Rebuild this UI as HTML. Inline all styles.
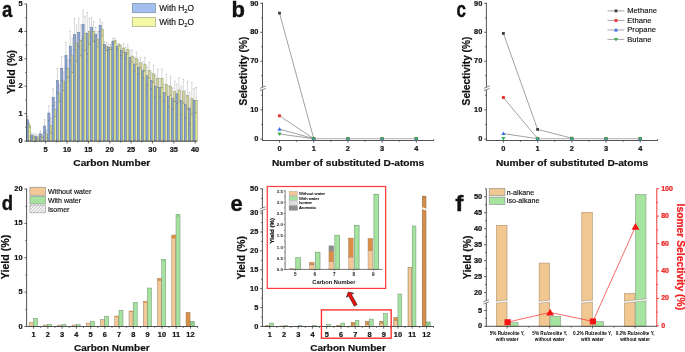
<!DOCTYPE html><html><head><meta charset="utf-8"><style>html,body{margin:0;padding:0;background:#fff;width:685px;height:352px;overflow:hidden}svg{display:block;will-change:transform;font-family:"Liberation Sans",sans-serif}</style></head><body>
<svg width="685" height="352" viewBox="0 0 685 352">
<defs><pattern id="hatchO" patternUnits="userSpaceOnUse" width="2" height="2" patternTransform="rotate(45)"><rect width="2" height="2" fill="#e29a52"/><line x1="0" y1="0" x2="0" y2="2" stroke="#c06a1c" stroke-width="0.9"/></pattern><pattern id="hatchG" patternUnits="userSpaceOnUse" width="2" height="2" patternTransform="rotate(45)"><rect width="2" height="2" fill="#a6e2a0"/><line x1="0" y1="0" x2="0" y2="2" stroke="#3f9a3f" stroke-width="1.0"/></pattern><pattern id="hatchW" patternUnits="userSpaceOnUse" width="2.2" height="2.2" patternTransform="rotate(45)"><rect width="2.2" height="2.2" fill="#fff"/><line x1="0" y1="0" x2="0" y2="2.2" stroke="#6a6a6a" stroke-width="0.75"/></pattern><pattern id="hatchL" patternUnits="userSpaceOnUse" width="2" height="2" patternTransform="rotate(45)"><rect width="2" height="2" fill="#ececec"/><line x1="0" y1="0" x2="0" y2="2" stroke="#a0a0a0" stroke-width="0.7"/></pattern></defs>
<rect width="685" height="352" fill="#fff"/>
<text x="2" y="16.8" font-size="22" font-weight="bold" text-anchor="start" fill="#111" textLength="10.3" lengthAdjust="spacingAndGlyphs"  stroke="#111" stroke-width="0.35">a</text>
<rect x="26.5" y="119.75" width="2.1" height="21.25" fill="#87a5dc" stroke="#526c9c" stroke-width="0.5"/>
<rect x="28.6" y="125" width="2.1" height="16" fill="#e2e898" stroke="#8f9360" stroke-width="0.5"/>
<rect x="30.77" y="135" width="2.1" height="6" fill="#87a5dc" stroke="#526c9c" stroke-width="0.5"/>
<rect x="32.87" y="136" width="2.1" height="5" fill="#e2e898" stroke="#8f9360" stroke-width="0.5"/>
<rect x="35.04" y="136.25" width="2.1" height="4.75" fill="#87a5dc" stroke="#526c9c" stroke-width="0.5"/>
<rect x="37.14" y="137" width="2.1" height="4" fill="#e2e898" stroke="#8f9360" stroke-width="0.5"/>
<rect x="39.31" y="133.75" width="2.1" height="7.25" fill="#87a5dc" stroke="#526c9c" stroke-width="0.5"/>
<rect x="41.41" y="136" width="2.1" height="5" fill="#e2e898" stroke="#8f9360" stroke-width="0.5"/>
<rect x="43.58" y="126" width="2.1" height="15" fill="#87a5dc" stroke="#526c9c" stroke-width="0.5"/>
<rect x="45.68" y="134" width="2.1" height="7" fill="#e2e898" stroke="#8f9360" stroke-width="0.5"/>
<rect x="47.85" y="113" width="2.1" height="28" fill="#87a5dc" stroke="#526c9c" stroke-width="0.5"/>
<rect x="49.95" y="125.5" width="2.1" height="15.5" fill="#e2e898" stroke="#8f9360" stroke-width="0.5"/>
<rect x="52.12" y="97.2" width="2.1" height="43.8" fill="#87a5dc" stroke="#526c9c" stroke-width="0.5"/>
<rect x="54.22" y="109.25" width="2.1" height="31.75" fill="#e2e898" stroke="#8f9360" stroke-width="0.5"/>
<rect x="56.39" y="80.5" width="2.1" height="60.5" fill="#87a5dc" stroke="#526c9c" stroke-width="0.5"/>
<rect x="58.49" y="93.3" width="2.1" height="47.7" fill="#e2e898" stroke="#8f9360" stroke-width="0.5"/>
<rect x="60.66" y="68.3" width="2.1" height="72.7" fill="#87a5dc" stroke="#526c9c" stroke-width="0.5"/>
<rect x="62.76" y="81.3" width="2.1" height="59.7" fill="#e2e898" stroke="#8f9360" stroke-width="0.5"/>
<rect x="64.93" y="55.4" width="2.1" height="85.6" fill="#87a5dc" stroke="#526c9c" stroke-width="0.5"/>
<rect x="67.03" y="68.7" width="2.1" height="72.3" fill="#e2e898" stroke="#8f9360" stroke-width="0.5"/>
<rect x="69.2" y="46.1" width="2.1" height="94.9" fill="#87a5dc" stroke="#526c9c" stroke-width="0.5"/>
<rect x="71.3" y="55.4" width="2.1" height="85.6" fill="#e2e898" stroke="#8f9360" stroke-width="0.5"/>
<rect x="73.47" y="34.3" width="2.1" height="106.7" fill="#87a5dc" stroke="#526c9c" stroke-width="0.5"/>
<rect x="75.57" y="43.1" width="2.1" height="97.9" fill="#e2e898" stroke="#8f9360" stroke-width="0.5"/>
<rect x="77.74" y="32.4" width="2.1" height="108.6" fill="#87a5dc" stroke="#526c9c" stroke-width="0.5"/>
<rect x="79.84" y="40.4" width="2.1" height="100.6" fill="#e2e898" stroke="#8f9360" stroke-width="0.5"/>
<rect x="82.01" y="24.3" width="2.1" height="116.7" fill="#87a5dc" stroke="#526c9c" stroke-width="0.5"/>
<rect x="84.11" y="33.4" width="2.1" height="107.6" fill="#e2e898" stroke="#8f9360" stroke-width="0.5"/>
<rect x="86.28" y="33.1" width="2.1" height="107.9" fill="#87a5dc" stroke="#526c9c" stroke-width="0.5"/>
<rect x="88.38" y="31.3" width="2.1" height="109.7" fill="#e2e898" stroke="#8f9360" stroke-width="0.5"/>
<rect x="90.55" y="27.2" width="2.1" height="113.8" fill="#87a5dc" stroke="#526c9c" stroke-width="0.5"/>
<rect x="92.65" y="31.3" width="2.1" height="109.7" fill="#e2e898" stroke="#8f9360" stroke-width="0.5"/>
<rect x="94.82" y="34.3" width="2.1" height="106.7" fill="#87a5dc" stroke="#526c9c" stroke-width="0.5"/>
<rect x="96.92" y="39.1" width="2.1" height="101.9" fill="#e2e898" stroke="#8f9360" stroke-width="0.5"/>
<rect x="99.09" y="25.2" width="2.1" height="115.8" fill="#87a5dc" stroke="#526c9c" stroke-width="0.5"/>
<rect x="101.19" y="29.1" width="2.1" height="111.9" fill="#e2e898" stroke="#8f9360" stroke-width="0.5"/>
<rect x="103.36" y="44.7" width="2.1" height="96.3" fill="#87a5dc" stroke="#526c9c" stroke-width="0.5"/>
<rect x="105.46" y="46.5" width="2.1" height="94.5" fill="#e2e898" stroke="#8f9360" stroke-width="0.5"/>
<rect x="107.63" y="47" width="2.1" height="94" fill="#87a5dc" stroke="#526c9c" stroke-width="0.5"/>
<rect x="109.73" y="47" width="2.1" height="94" fill="#e2e898" stroke="#8f9360" stroke-width="0.5"/>
<rect x="111.9" y="41.1" width="2.1" height="99.9" fill="#87a5dc" stroke="#526c9c" stroke-width="0.5"/>
<rect x="114" y="40.4" width="2.1" height="100.6" fill="#e2e898" stroke="#8f9360" stroke-width="0.5"/>
<rect x="116.17" y="46.2" width="2.1" height="94.8" fill="#87a5dc" stroke="#526c9c" stroke-width="0.5"/>
<rect x="118.27" y="44.8" width="2.1" height="96.2" fill="#e2e898" stroke="#8f9360" stroke-width="0.5"/>
<rect x="120.44" y="50.2" width="2.1" height="90.8" fill="#87a5dc" stroke="#526c9c" stroke-width="0.5"/>
<rect x="122.54" y="48" width="2.1" height="93" fill="#e2e898" stroke="#8f9360" stroke-width="0.5"/>
<rect x="124.71" y="52.7" width="2.1" height="88.3" fill="#87a5dc" stroke="#526c9c" stroke-width="0.5"/>
<rect x="126.81" y="49.2" width="2.1" height="91.8" fill="#e2e898" stroke="#8f9360" stroke-width="0.5"/>
<rect x="128.98" y="57.3" width="2.1" height="83.7" fill="#87a5dc" stroke="#526c9c" stroke-width="0.5"/>
<rect x="131.08" y="56.1" width="2.1" height="84.9" fill="#e2e898" stroke="#8f9360" stroke-width="0.5"/>
<rect x="133.25" y="64" width="2.1" height="77" fill="#87a5dc" stroke="#526c9c" stroke-width="0.5"/>
<rect x="135.35" y="58.2" width="2.1" height="82.8" fill="#e2e898" stroke="#8f9360" stroke-width="0.5"/>
<rect x="137.52" y="67" width="2.1" height="74" fill="#87a5dc" stroke="#526c9c" stroke-width="0.5"/>
<rect x="139.62" y="62.8" width="2.1" height="78.2" fill="#e2e898" stroke="#8f9360" stroke-width="0.5"/>
<rect x="141.79" y="70.1" width="2.1" height="70.9" fill="#87a5dc" stroke="#526c9c" stroke-width="0.5"/>
<rect x="143.89" y="64.1" width="2.1" height="76.9" fill="#e2e898" stroke="#8f9360" stroke-width="0.5"/>
<rect x="146.06" y="75.8" width="2.1" height="65.2" fill="#87a5dc" stroke="#526c9c" stroke-width="0.5"/>
<rect x="148.16" y="70.3" width="2.1" height="70.7" fill="#e2e898" stroke="#8f9360" stroke-width="0.5"/>
<rect x="150.33" y="80.3" width="2.1" height="60.7" fill="#87a5dc" stroke="#526c9c" stroke-width="0.5"/>
<rect x="152.43" y="73.8" width="2.1" height="67.2" fill="#e2e898" stroke="#8f9360" stroke-width="0.5"/>
<rect x="154.6" y="86.1" width="2.1" height="54.9" fill="#87a5dc" stroke="#526c9c" stroke-width="0.5"/>
<rect x="156.7" y="78.3" width="2.1" height="62.7" fill="#e2e898" stroke="#8f9360" stroke-width="0.5"/>
<rect x="158.87" y="87.4" width="2.1" height="53.6" fill="#87a5dc" stroke="#526c9c" stroke-width="0.5"/>
<rect x="160.97" y="78.3" width="2.1" height="62.7" fill="#e2e898" stroke="#8f9360" stroke-width="0.5"/>
<rect x="163.14" y="92.3" width="2.1" height="48.7" fill="#87a5dc" stroke="#526c9c" stroke-width="0.5"/>
<rect x="165.24" y="84.6" width="2.1" height="56.4" fill="#e2e898" stroke="#8f9360" stroke-width="0.5"/>
<rect x="167.41" y="96.5" width="2.1" height="44.5" fill="#87a5dc" stroke="#526c9c" stroke-width="0.5"/>
<rect x="169.51" y="86" width="2.1" height="55" fill="#e2e898" stroke="#8f9360" stroke-width="0.5"/>
<rect x="171.68" y="98.4" width="2.1" height="42.6" fill="#87a5dc" stroke="#526c9c" stroke-width="0.5"/>
<rect x="173.78" y="91.3" width="2.1" height="49.7" fill="#e2e898" stroke="#8f9360" stroke-width="0.5"/>
<rect x="175.95" y="93.8" width="2.1" height="47.2" fill="#87a5dc" stroke="#526c9c" stroke-width="0.5"/>
<rect x="178.05" y="89.9" width="2.1" height="51.1" fill="#e2e898" stroke="#8f9360" stroke-width="0.5"/>
<rect x="180.22" y="100.4" width="2.1" height="40.6" fill="#87a5dc" stroke="#526c9c" stroke-width="0.5"/>
<rect x="182.32" y="91.2" width="2.1" height="49.8" fill="#e2e898" stroke="#8f9360" stroke-width="0.5"/>
<rect x="184.49" y="104.2" width="2.1" height="36.8" fill="#87a5dc" stroke="#526c9c" stroke-width="0.5"/>
<rect x="186.59" y="95.4" width="2.1" height="45.6" fill="#e2e898" stroke="#8f9360" stroke-width="0.5"/>
<rect x="188.76" y="108" width="2.1" height="33" fill="#87a5dc" stroke="#526c9c" stroke-width="0.5"/>
<rect x="190.86" y="98.2" width="2.1" height="42.8" fill="#e2e898" stroke="#8f9360" stroke-width="0.5"/>
<rect x="193.03" y="100.2" width="2.1" height="40.8" fill="#87a5dc" stroke="#526c9c" stroke-width="0.5"/>
<rect x="195.13" y="100.2" width="2.1" height="40.8" fill="#e2e898" stroke="#8f9360" stroke-width="0.5"/>
<line x1="27.5" y1="116" x2="27.5" y2="123.5" stroke="#a8a8a8" stroke-width="0.45" />
<line x1="26.7" y1="116" x2="28.3" y2="116" stroke="#a0a0a0" stroke-width="0.5" />
<line x1="26.7" y1="123.5" x2="28.3" y2="123.5" stroke="#6a6a6a" stroke-width="0.55" />
<line x1="29.6" y1="123" x2="29.6" y2="127" stroke="#a8a8a8" stroke-width="0.45" />
<line x1="28.8" y1="123" x2="30.4" y2="123" stroke="#a0a0a0" stroke-width="0.5" />
<line x1="28.8" y1="127" x2="30.4" y2="127" stroke="#6a6a6a" stroke-width="0.55" />
<line x1="31.77" y1="133" x2="31.77" y2="137" stroke="#a8a8a8" stroke-width="0.45" />
<line x1="30.97" y1="133" x2="32.57" y2="133" stroke="#a0a0a0" stroke-width="0.5" />
<line x1="30.97" y1="137" x2="32.57" y2="137" stroke="#6a6a6a" stroke-width="0.55" />
<line x1="33.87" y1="134" x2="33.87" y2="138" stroke="#a8a8a8" stroke-width="0.45" />
<line x1="33.07" y1="134" x2="34.67" y2="134" stroke="#a0a0a0" stroke-width="0.5" />
<line x1="33.07" y1="138" x2="34.67" y2="138" stroke="#6a6a6a" stroke-width="0.55" />
<line x1="36.04" y1="134" x2="36.04" y2="138.5" stroke="#a8a8a8" stroke-width="0.45" />
<line x1="35.24" y1="134" x2="36.84" y2="134" stroke="#a0a0a0" stroke-width="0.5" />
<line x1="35.24" y1="138.5" x2="36.84" y2="138.5" stroke="#6a6a6a" stroke-width="0.55" />
<line x1="38.14" y1="135" x2="38.14" y2="139" stroke="#a8a8a8" stroke-width="0.45" />
<line x1="37.34" y1="135" x2="38.94" y2="135" stroke="#a0a0a0" stroke-width="0.5" />
<line x1="37.34" y1="139" x2="38.94" y2="139" stroke="#6a6a6a" stroke-width="0.55" />
<line x1="40.31" y1="131" x2="40.31" y2="136.5" stroke="#a8a8a8" stroke-width="0.45" />
<line x1="39.51" y1="131" x2="41.11" y2="131" stroke="#a0a0a0" stroke-width="0.5" />
<line x1="39.51" y1="136.5" x2="41.11" y2="136.5" stroke="#6a6a6a" stroke-width="0.55" />
<line x1="42.41" y1="134" x2="42.41" y2="138" stroke="#a8a8a8" stroke-width="0.45" />
<line x1="41.61" y1="134" x2="43.21" y2="134" stroke="#a0a0a0" stroke-width="0.5" />
<line x1="41.61" y1="138" x2="43.21" y2="138" stroke="#6a6a6a" stroke-width="0.55" />
<line x1="44.58" y1="119.5" x2="44.58" y2="132.5" stroke="#a8a8a8" stroke-width="0.45" />
<line x1="43.78" y1="119.5" x2="45.38" y2="119.5" stroke="#a0a0a0" stroke-width="0.5" />
<line x1="43.78" y1="132.5" x2="45.38" y2="132.5" stroke="#6a6a6a" stroke-width="0.55" />
<line x1="46.68" y1="130" x2="46.68" y2="138" stroke="#a8a8a8" stroke-width="0.45" />
<line x1="45.88" y1="130" x2="47.48" y2="130" stroke="#a0a0a0" stroke-width="0.5" />
<line x1="45.88" y1="138" x2="47.48" y2="138" stroke="#6a6a6a" stroke-width="0.55" />
<line x1="48.85" y1="105.8" x2="48.85" y2="120.2" stroke="#a8a8a8" stroke-width="0.45" />
<line x1="48.05" y1="105.8" x2="49.65" y2="105.8" stroke="#a0a0a0" stroke-width="0.5" />
<line x1="48.05" y1="120.2" x2="49.65" y2="120.2" stroke="#6a6a6a" stroke-width="0.55" />
<line x1="50.95" y1="118" x2="50.95" y2="133" stroke="#a8a8a8" stroke-width="0.45" />
<line x1="50.15" y1="118" x2="51.75" y2="118" stroke="#a0a0a0" stroke-width="0.5" />
<line x1="50.15" y1="133" x2="51.75" y2="133" stroke="#6a6a6a" stroke-width="0.55" />
<line x1="53.12" y1="88.7" x2="53.12" y2="105.7" stroke="#a8a8a8" stroke-width="0.45" />
<line x1="52.32" y1="88.7" x2="53.92" y2="88.7" stroke="#a0a0a0" stroke-width="0.5" />
<line x1="52.32" y1="105.7" x2="53.92" y2="105.7" stroke="#6a6a6a" stroke-width="0.55" />
<line x1="55.22" y1="102" x2="55.22" y2="116.5" stroke="#a8a8a8" stroke-width="0.45" />
<line x1="54.42" y1="102" x2="56.02" y2="102" stroke="#a0a0a0" stroke-width="0.5" />
<line x1="54.42" y1="116.5" x2="56.02" y2="116.5" stroke="#6a6a6a" stroke-width="0.55" />
<line x1="57.39" y1="68.5" x2="57.39" y2="92.5" stroke="#a8a8a8" stroke-width="0.45" />
<line x1="56.59" y1="68.5" x2="58.19" y2="68.5" stroke="#a0a0a0" stroke-width="0.5" />
<line x1="56.59" y1="92.5" x2="58.19" y2="92.5" stroke="#6a6a6a" stroke-width="0.55" />
<line x1="59.49" y1="85" x2="59.49" y2="101.6" stroke="#a8a8a8" stroke-width="0.45" />
<line x1="58.69" y1="85" x2="60.29" y2="85" stroke="#a0a0a0" stroke-width="0.5" />
<line x1="58.69" y1="101.6" x2="60.29" y2="101.6" stroke="#6a6a6a" stroke-width="0.55" />
<line x1="61.66" y1="56.3" x2="61.66" y2="80.3" stroke="#a8a8a8" stroke-width="0.45" />
<line x1="60.86" y1="56.3" x2="62.46" y2="56.3" stroke="#a0a0a0" stroke-width="0.5" />
<line x1="60.86" y1="80.3" x2="62.46" y2="80.3" stroke="#6a6a6a" stroke-width="0.55" />
<line x1="63.76" y1="72" x2="63.76" y2="90.6" stroke="#a8a8a8" stroke-width="0.45" />
<line x1="62.96" y1="72" x2="64.56" y2="72" stroke="#a0a0a0" stroke-width="0.5" />
<line x1="62.96" y1="90.6" x2="64.56" y2="90.6" stroke="#6a6a6a" stroke-width="0.55" />
<line x1="65.93" y1="42.4" x2="65.93" y2="68.4" stroke="#a8a8a8" stroke-width="0.45" />
<line x1="65.13" y1="42.4" x2="66.73" y2="42.4" stroke="#a0a0a0" stroke-width="0.5" />
<line x1="65.13" y1="68.4" x2="66.73" y2="68.4" stroke="#6a6a6a" stroke-width="0.55" />
<line x1="68.03" y1="60" x2="68.03" y2="77.4" stroke="#a8a8a8" stroke-width="0.45" />
<line x1="67.23" y1="60" x2="68.83" y2="60" stroke="#a0a0a0" stroke-width="0.5" />
<line x1="67.23" y1="77.4" x2="68.83" y2="77.4" stroke="#6a6a6a" stroke-width="0.55" />
<line x1="70.2" y1="31.3" x2="70.2" y2="60.9" stroke="#a8a8a8" stroke-width="0.45" />
<line x1="69.4" y1="31.3" x2="71" y2="31.3" stroke="#a0a0a0" stroke-width="0.5" />
<line x1="69.4" y1="60.9" x2="71" y2="60.9" stroke="#6a6a6a" stroke-width="0.55" />
<line x1="72.3" y1="38.2" x2="72.3" y2="72.6" stroke="#a8a8a8" stroke-width="0.45" />
<line x1="71.5" y1="38.2" x2="73.1" y2="38.2" stroke="#a0a0a0" stroke-width="0.5" />
<line x1="71.5" y1="72.6" x2="73.1" y2="72.6" stroke="#6a6a6a" stroke-width="0.55" />
<line x1="74.47" y1="18.7" x2="74.47" y2="49.9" stroke="#a8a8a8" stroke-width="0.45" />
<line x1="73.67" y1="18.7" x2="75.27" y2="18.7" stroke="#a0a0a0" stroke-width="0.5" />
<line x1="73.67" y1="49.9" x2="75.27" y2="49.9" stroke="#6a6a6a" stroke-width="0.55" />
<line x1="76.57" y1="25" x2="76.57" y2="61.2" stroke="#a8a8a8" stroke-width="0.45" />
<line x1="75.77" y1="25" x2="77.37" y2="25" stroke="#a0a0a0" stroke-width="0.5" />
<line x1="75.77" y1="61.2" x2="77.37" y2="61.2" stroke="#6a6a6a" stroke-width="0.55" />
<line x1="78.74" y1="18.4" x2="78.74" y2="46.4" stroke="#a8a8a8" stroke-width="0.45" />
<line x1="77.94" y1="18.4" x2="79.54" y2="18.4" stroke="#a0a0a0" stroke-width="0.5" />
<line x1="77.94" y1="46.4" x2="79.54" y2="46.4" stroke="#6a6a6a" stroke-width="0.55" />
<line x1="80.84" y1="25" x2="80.84" y2="55.8" stroke="#a8a8a8" stroke-width="0.45" />
<line x1="80.04" y1="25" x2="81.64" y2="25" stroke="#a0a0a0" stroke-width="0.5" />
<line x1="80.04" y1="55.8" x2="81.64" y2="55.8" stroke="#6a6a6a" stroke-width="0.55" />
<line x1="83.01" y1="10.2" x2="83.01" y2="38.4" stroke="#a8a8a8" stroke-width="0.45" />
<line x1="82.21" y1="10.2" x2="83.81" y2="10.2" stroke="#a0a0a0" stroke-width="0.5" />
<line x1="82.21" y1="38.4" x2="83.81" y2="38.4" stroke="#6a6a6a" stroke-width="0.55" />
<line x1="85.11" y1="16.4" x2="85.11" y2="50.4" stroke="#a8a8a8" stroke-width="0.45" />
<line x1="84.31" y1="16.4" x2="85.91" y2="16.4" stroke="#a0a0a0" stroke-width="0.5" />
<line x1="84.31" y1="50.4" x2="85.91" y2="50.4" stroke="#6a6a6a" stroke-width="0.55" />
<line x1="87.28" y1="12.5" x2="87.28" y2="53.7" stroke="#a8a8a8" stroke-width="0.45" />
<line x1="86.48" y1="12.5" x2="88.08" y2="12.5" stroke="#a0a0a0" stroke-width="0.5" />
<line x1="86.48" y1="53.7" x2="88.08" y2="53.7" stroke="#6a6a6a" stroke-width="0.55" />
<line x1="89.38" y1="18.4" x2="89.38" y2="44.2" stroke="#a8a8a8" stroke-width="0.45" />
<line x1="88.58" y1="18.4" x2="90.18" y2="18.4" stroke="#a0a0a0" stroke-width="0.5" />
<line x1="88.58" y1="44.2" x2="90.18" y2="44.2" stroke="#6a6a6a" stroke-width="0.55" />
<line x1="91.55" y1="17.4" x2="91.55" y2="37" stroke="#a8a8a8" stroke-width="0.45" />
<line x1="90.75" y1="17.4" x2="92.35" y2="17.4" stroke="#a0a0a0" stroke-width="0.5" />
<line x1="90.75" y1="37" x2="92.35" y2="37" stroke="#6a6a6a" stroke-width="0.55" />
<line x1="93.65" y1="21.3" x2="93.65" y2="41.3" stroke="#a8a8a8" stroke-width="0.45" />
<line x1="92.85" y1="21.3" x2="94.45" y2="21.3" stroke="#a0a0a0" stroke-width="0.5" />
<line x1="92.85" y1="41.3" x2="94.45" y2="41.3" stroke="#6a6a6a" stroke-width="0.55" />
<line x1="95.82" y1="27.4" x2="95.82" y2="41.2" stroke="#a8a8a8" stroke-width="0.45" />
<line x1="95.02" y1="27.4" x2="96.62" y2="27.4" stroke="#a0a0a0" stroke-width="0.5" />
<line x1="95.02" y1="41.2" x2="96.62" y2="41.2" stroke="#6a6a6a" stroke-width="0.55" />
<line x1="97.92" y1="31.4" x2="97.92" y2="46.8" stroke="#a8a8a8" stroke-width="0.45" />
<line x1="97.12" y1="31.4" x2="98.72" y2="31.4" stroke="#a0a0a0" stroke-width="0.5" />
<line x1="97.12" y1="46.8" x2="98.72" y2="46.8" stroke="#6a6a6a" stroke-width="0.55" />
<line x1="100.09" y1="19.1" x2="100.09" y2="31.3" stroke="#a8a8a8" stroke-width="0.45" />
<line x1="99.29" y1="19.1" x2="100.89" y2="19.1" stroke="#a0a0a0" stroke-width="0.5" />
<line x1="99.29" y1="31.3" x2="100.89" y2="31.3" stroke="#6a6a6a" stroke-width="0.55" />
<line x1="102.19" y1="22.2" x2="102.19" y2="36" stroke="#a8a8a8" stroke-width="0.45" />
<line x1="101.39" y1="22.2" x2="102.99" y2="22.2" stroke="#a0a0a0" stroke-width="0.5" />
<line x1="101.39" y1="36" x2="102.99" y2="36" stroke="#6a6a6a" stroke-width="0.55" />
<line x1="104.36" y1="41.4" x2="104.36" y2="48" stroke="#a8a8a8" stroke-width="0.45" />
<line x1="103.56" y1="41.4" x2="105.16" y2="41.4" stroke="#a0a0a0" stroke-width="0.5" />
<line x1="103.56" y1="48" x2="105.16" y2="48" stroke="#6a6a6a" stroke-width="0.55" />
<line x1="106.46" y1="42.5" x2="106.46" y2="50.5" stroke="#a8a8a8" stroke-width="0.45" />
<line x1="105.66" y1="42.5" x2="107.26" y2="42.5" stroke="#a0a0a0" stroke-width="0.5" />
<line x1="105.66" y1="50.5" x2="107.26" y2="50.5" stroke="#6a6a6a" stroke-width="0.55" />
<line x1="108.63" y1="44.2" x2="108.63" y2="49.8" stroke="#a8a8a8" stroke-width="0.45" />
<line x1="107.83" y1="44.2" x2="109.43" y2="44.2" stroke="#a0a0a0" stroke-width="0.5" />
<line x1="107.83" y1="49.8" x2="109.43" y2="49.8" stroke="#6a6a6a" stroke-width="0.55" />
<line x1="110.73" y1="44.5" x2="110.73" y2="49.5" stroke="#a8a8a8" stroke-width="0.45" />
<line x1="109.93" y1="44.5" x2="111.53" y2="44.5" stroke="#a0a0a0" stroke-width="0.5" />
<line x1="109.93" y1="49.5" x2="111.53" y2="49.5" stroke="#6a6a6a" stroke-width="0.55" />
<line x1="112.9" y1="38.4" x2="112.9" y2="43.8" stroke="#a8a8a8" stroke-width="0.45" />
<line x1="112.1" y1="38.4" x2="113.7" y2="38.4" stroke="#a0a0a0" stroke-width="0.5" />
<line x1="112.1" y1="43.8" x2="113.7" y2="43.8" stroke="#6a6a6a" stroke-width="0.55" />
<line x1="115" y1="38.6" x2="115" y2="42.2" stroke="#a8a8a8" stroke-width="0.45" />
<line x1="114.2" y1="38.6" x2="115.8" y2="38.6" stroke="#a0a0a0" stroke-width="0.5" />
<line x1="114.2" y1="42.2" x2="115.8" y2="42.2" stroke="#6a6a6a" stroke-width="0.55" />
<line x1="117.17" y1="43.7" x2="117.17" y2="48.7" stroke="#a8a8a8" stroke-width="0.45" />
<line x1="116.37" y1="43.7" x2="117.97" y2="43.7" stroke="#a0a0a0" stroke-width="0.5" />
<line x1="116.37" y1="48.7" x2="117.97" y2="48.7" stroke="#6a6a6a" stroke-width="0.55" />
<line x1="119.27" y1="43.7" x2="119.27" y2="45.9" stroke="#a8a8a8" stroke-width="0.45" />
<line x1="118.47" y1="43.7" x2="120.07" y2="43.7" stroke="#a0a0a0" stroke-width="0.5" />
<line x1="118.47" y1="45.9" x2="120.07" y2="45.9" stroke="#6a6a6a" stroke-width="0.55" />
<line x1="121.44" y1="45" x2="121.44" y2="55.4" stroke="#a8a8a8" stroke-width="0.45" />
<line x1="120.64" y1="45" x2="122.24" y2="45" stroke="#a0a0a0" stroke-width="0.5" />
<line x1="120.64" y1="55.4" x2="122.24" y2="55.4" stroke="#6a6a6a" stroke-width="0.55" />
<line x1="123.54" y1="43.6" x2="123.54" y2="52.4" stroke="#a8a8a8" stroke-width="0.45" />
<line x1="122.74" y1="43.6" x2="124.34" y2="43.6" stroke="#a0a0a0" stroke-width="0.5" />
<line x1="122.74" y1="52.4" x2="124.34" y2="52.4" stroke="#6a6a6a" stroke-width="0.55" />
<line x1="125.71" y1="47.3" x2="125.71" y2="58.1" stroke="#a8a8a8" stroke-width="0.45" />
<line x1="124.91" y1="47.3" x2="126.51" y2="47.3" stroke="#a0a0a0" stroke-width="0.5" />
<line x1="124.91" y1="58.1" x2="126.51" y2="58.1" stroke="#6a6a6a" stroke-width="0.55" />
<line x1="127.81" y1="44.4" x2="127.81" y2="54" stroke="#a8a8a8" stroke-width="0.45" />
<line x1="127.01" y1="44.4" x2="128.61" y2="44.4" stroke="#a0a0a0" stroke-width="0.5" />
<line x1="127.01" y1="54" x2="128.61" y2="54" stroke="#6a6a6a" stroke-width="0.55" />
<line x1="129.98" y1="50.6" x2="129.98" y2="64" stroke="#a8a8a8" stroke-width="0.45" />
<line x1="129.18" y1="50.6" x2="130.78" y2="50.6" stroke="#a0a0a0" stroke-width="0.5" />
<line x1="129.18" y1="64" x2="130.78" y2="64" stroke="#6a6a6a" stroke-width="0.55" />
<line x1="132.08" y1="50" x2="132.08" y2="62.2" stroke="#a8a8a8" stroke-width="0.45" />
<line x1="131.28" y1="50" x2="132.88" y2="50" stroke="#a0a0a0" stroke-width="0.5" />
<line x1="131.28" y1="62.2" x2="132.88" y2="62.2" stroke="#6a6a6a" stroke-width="0.55" />
<line x1="134.25" y1="57" x2="134.25" y2="71" stroke="#a8a8a8" stroke-width="0.45" />
<line x1="133.45" y1="57" x2="135.05" y2="57" stroke="#a0a0a0" stroke-width="0.5" />
<line x1="133.45" y1="71" x2="135.05" y2="71" stroke="#6a6a6a" stroke-width="0.55" />
<line x1="136.35" y1="52.1" x2="136.35" y2="64.3" stroke="#a8a8a8" stroke-width="0.45" />
<line x1="135.55" y1="52.1" x2="137.15" y2="52.1" stroke="#a0a0a0" stroke-width="0.5" />
<line x1="135.55" y1="64.3" x2="137.15" y2="64.3" stroke="#6a6a6a" stroke-width="0.55" />
<line x1="138.52" y1="60" x2="138.52" y2="74" stroke="#a8a8a8" stroke-width="0.45" />
<line x1="137.72" y1="60" x2="139.32" y2="60" stroke="#a0a0a0" stroke-width="0.5" />
<line x1="137.72" y1="74" x2="139.32" y2="74" stroke="#6a6a6a" stroke-width="0.55" />
<line x1="140.62" y1="57.4" x2="140.62" y2="68.2" stroke="#a8a8a8" stroke-width="0.45" />
<line x1="139.82" y1="57.4" x2="141.42" y2="57.4" stroke="#a0a0a0" stroke-width="0.5" />
<line x1="139.82" y1="68.2" x2="141.42" y2="68.2" stroke="#6a6a6a" stroke-width="0.55" />
<line x1="142.79" y1="62" x2="142.79" y2="78.2" stroke="#a8a8a8" stroke-width="0.45" />
<line x1="141.99" y1="62" x2="143.59" y2="62" stroke="#a0a0a0" stroke-width="0.5" />
<line x1="141.99" y1="78.2" x2="143.59" y2="78.2" stroke="#6a6a6a" stroke-width="0.55" />
<line x1="144.89" y1="57.4" x2="144.89" y2="70.8" stroke="#a8a8a8" stroke-width="0.45" />
<line x1="144.09" y1="57.4" x2="145.69" y2="57.4" stroke="#a0a0a0" stroke-width="0.5" />
<line x1="144.09" y1="70.8" x2="145.69" y2="70.8" stroke="#6a6a6a" stroke-width="0.55" />
<line x1="147.06" y1="67" x2="147.06" y2="84.6" stroke="#a8a8a8" stroke-width="0.45" />
<line x1="146.26" y1="67" x2="147.86" y2="67" stroke="#a0a0a0" stroke-width="0.5" />
<line x1="146.26" y1="84.6" x2="147.86" y2="84.6" stroke="#6a6a6a" stroke-width="0.55" />
<line x1="149.16" y1="62.3" x2="149.16" y2="78.3" stroke="#a8a8a8" stroke-width="0.45" />
<line x1="148.36" y1="62.3" x2="149.96" y2="62.3" stroke="#a0a0a0" stroke-width="0.5" />
<line x1="148.36" y1="78.3" x2="149.96" y2="78.3" stroke="#6a6a6a" stroke-width="0.55" />
<line x1="151.33" y1="72" x2="151.33" y2="88.6" stroke="#a8a8a8" stroke-width="0.45" />
<line x1="150.53" y1="72" x2="152.13" y2="72" stroke="#a0a0a0" stroke-width="0.5" />
<line x1="150.53" y1="88.6" x2="152.13" y2="88.6" stroke="#6a6a6a" stroke-width="0.55" />
<line x1="153.43" y1="65.2" x2="153.43" y2="82.4" stroke="#a8a8a8" stroke-width="0.45" />
<line x1="152.63" y1="65.2" x2="154.23" y2="65.2" stroke="#a0a0a0" stroke-width="0.5" />
<line x1="152.63" y1="82.4" x2="154.23" y2="82.4" stroke="#6a6a6a" stroke-width="0.55" />
<line x1="155.6" y1="75" x2="155.6" y2="97.2" stroke="#a8a8a8" stroke-width="0.45" />
<line x1="154.8" y1="75" x2="156.4" y2="75" stroke="#a0a0a0" stroke-width="0.5" />
<line x1="154.8" y1="97.2" x2="156.4" y2="97.2" stroke="#6a6a6a" stroke-width="0.55" />
<line x1="157.7" y1="69.2" x2="157.7" y2="87.4" stroke="#a8a8a8" stroke-width="0.45" />
<line x1="156.9" y1="69.2" x2="158.5" y2="69.2" stroke="#a0a0a0" stroke-width="0.5" />
<line x1="156.9" y1="87.4" x2="158.5" y2="87.4" stroke="#6a6a6a" stroke-width="0.55" />
<line x1="159.87" y1="78" x2="159.87" y2="96.8" stroke="#a8a8a8" stroke-width="0.45" />
<line x1="159.07" y1="78" x2="160.67" y2="78" stroke="#a0a0a0" stroke-width="0.5" />
<line x1="159.07" y1="96.8" x2="160.67" y2="96.8" stroke="#6a6a6a" stroke-width="0.55" />
<line x1="161.97" y1="68.9" x2="161.97" y2="87.7" stroke="#a8a8a8" stroke-width="0.45" />
<line x1="161.17" y1="68.9" x2="162.77" y2="68.9" stroke="#a0a0a0" stroke-width="0.5" />
<line x1="161.17" y1="87.7" x2="162.77" y2="87.7" stroke="#6a6a6a" stroke-width="0.55" />
<line x1="164.14" y1="84" x2="164.14" y2="100.6" stroke="#a8a8a8" stroke-width="0.45" />
<line x1="163.34" y1="84" x2="164.94" y2="84" stroke="#a0a0a0" stroke-width="0.5" />
<line x1="163.34" y1="100.6" x2="164.94" y2="100.6" stroke="#6a6a6a" stroke-width="0.55" />
<line x1="166.24" y1="74.3" x2="166.24" y2="94.9" stroke="#a8a8a8" stroke-width="0.45" />
<line x1="165.44" y1="74.3" x2="167.04" y2="74.3" stroke="#a0a0a0" stroke-width="0.5" />
<line x1="165.44" y1="94.9" x2="167.04" y2="94.9" stroke="#6a6a6a" stroke-width="0.55" />
<line x1="168.41" y1="86" x2="168.41" y2="107" stroke="#a8a8a8" stroke-width="0.45" />
<line x1="167.61" y1="86" x2="169.21" y2="86" stroke="#a0a0a0" stroke-width="0.5" />
<line x1="167.61" y1="107" x2="169.21" y2="107" stroke="#6a6a6a" stroke-width="0.55" />
<line x1="170.51" y1="76.3" x2="170.51" y2="95.7" stroke="#a8a8a8" stroke-width="0.45" />
<line x1="169.71" y1="76.3" x2="171.31" y2="76.3" stroke="#a0a0a0" stroke-width="0.5" />
<line x1="169.71" y1="95.7" x2="171.31" y2="95.7" stroke="#6a6a6a" stroke-width="0.55" />
<line x1="172.68" y1="88" x2="172.68" y2="108.8" stroke="#a8a8a8" stroke-width="0.45" />
<line x1="171.88" y1="88" x2="173.48" y2="88" stroke="#a0a0a0" stroke-width="0.5" />
<line x1="171.88" y1="108.8" x2="173.48" y2="108.8" stroke="#6a6a6a" stroke-width="0.55" />
<line x1="174.78" y1="81.2" x2="174.78" y2="101.4" stroke="#a8a8a8" stroke-width="0.45" />
<line x1="173.98" y1="81.2" x2="175.58" y2="81.2" stroke="#a0a0a0" stroke-width="0.5" />
<line x1="173.98" y1="101.4" x2="175.58" y2="101.4" stroke="#6a6a6a" stroke-width="0.55" />
<line x1="176.95" y1="84" x2="176.95" y2="103.6" stroke="#a8a8a8" stroke-width="0.45" />
<line x1="176.15" y1="84" x2="177.75" y2="84" stroke="#a0a0a0" stroke-width="0.5" />
<line x1="176.15" y1="103.6" x2="177.75" y2="103.6" stroke="#6a6a6a" stroke-width="0.55" />
<line x1="179.05" y1="77.7" x2="179.05" y2="102.1" stroke="#a8a8a8" stroke-width="0.45" />
<line x1="178.25" y1="77.7" x2="179.85" y2="77.7" stroke="#a0a0a0" stroke-width="0.5" />
<line x1="178.25" y1="102.1" x2="179.85" y2="102.1" stroke="#6a6a6a" stroke-width="0.55" />
<line x1="181.22" y1="86.3" x2="181.22" y2="114.5" stroke="#a8a8a8" stroke-width="0.45" />
<line x1="180.42" y1="86.3" x2="182.02" y2="86.3" stroke="#a0a0a0" stroke-width="0.5" />
<line x1="180.42" y1="114.5" x2="182.02" y2="114.5" stroke="#6a6a6a" stroke-width="0.55" />
<line x1="183.32" y1="79.2" x2="183.32" y2="103.2" stroke="#a8a8a8" stroke-width="0.45" />
<line x1="182.52" y1="79.2" x2="184.12" y2="79.2" stroke="#a0a0a0" stroke-width="0.5" />
<line x1="182.52" y1="103.2" x2="184.12" y2="103.2" stroke="#6a6a6a" stroke-width="0.55" />
<line x1="185.49" y1="90.3" x2="185.49" y2="118.1" stroke="#a8a8a8" stroke-width="0.45" />
<line x1="184.69" y1="90.3" x2="186.29" y2="90.3" stroke="#a0a0a0" stroke-width="0.5" />
<line x1="184.69" y1="118.1" x2="186.29" y2="118.1" stroke="#6a6a6a" stroke-width="0.55" />
<line x1="187.59" y1="81.4" x2="187.59" y2="109.4" stroke="#a8a8a8" stroke-width="0.45" />
<line x1="186.79" y1="81.4" x2="188.39" y2="81.4" stroke="#a0a0a0" stroke-width="0.5" />
<line x1="186.79" y1="109.4" x2="188.39" y2="109.4" stroke="#6a6a6a" stroke-width="0.55" />
<line x1="189.76" y1="92.5" x2="189.76" y2="123.5" stroke="#a8a8a8" stroke-width="0.45" />
<line x1="188.96" y1="92.5" x2="190.56" y2="92.5" stroke="#a0a0a0" stroke-width="0.5" />
<line x1="188.96" y1="123.5" x2="190.56" y2="123.5" stroke="#6a6a6a" stroke-width="0.55" />
<line x1="191.86" y1="82.4" x2="191.86" y2="114" stroke="#a8a8a8" stroke-width="0.45" />
<line x1="191.06" y1="82.4" x2="192.66" y2="82.4" stroke="#a0a0a0" stroke-width="0.5" />
<line x1="191.06" y1="114" x2="192.66" y2="114" stroke="#6a6a6a" stroke-width="0.55" />
<line x1="194.03" y1="88.5" x2="194.03" y2="111.9" stroke="#a8a8a8" stroke-width="0.45" />
<line x1="193.23" y1="88.5" x2="194.83" y2="88.5" stroke="#a0a0a0" stroke-width="0.5" />
<line x1="193.23" y1="111.9" x2="194.83" y2="111.9" stroke="#6a6a6a" stroke-width="0.55" />
<line x1="196.13" y1="87.5" x2="196.13" y2="112.9" stroke="#a8a8a8" stroke-width="0.45" />
<line x1="195.33" y1="87.5" x2="196.93" y2="87.5" stroke="#a0a0a0" stroke-width="0.5" />
<line x1="195.33" y1="112.9" x2="196.93" y2="112.9" stroke="#6a6a6a" stroke-width="0.55" />
<defs><linearGradient id="gB" x1="0" x2="1" y1="0" y2="0"><stop offset="0" stop-color="#9dbcf2"/><stop offset="0.45" stop-color="#8ea9df"/><stop offset="1" stop-color="#6f86b8"/></linearGradient><linearGradient id="gY" x1="0" x2="1" y1="0" y2="0"><stop offset="0" stop-color="#b7b881"/><stop offset="0.5" stop-color="#eef2a2"/><stop offset="1" stop-color="#c9cc8c"/></linearGradient></defs>
<line x1="26.6" y1="3.8" x2="26.6" y2="141.5" stroke="#404040" stroke-width="0.9" />
<line x1="26.2" y1="141.2" x2="197.2" y2="141.2" stroke="#404040" stroke-width="0.9" />
<line x1="24.4" y1="141" x2="26.6" y2="141" stroke="#404040" stroke-width="0.8" />
<text x="22.5" y="143.06" font-size="7.4" font-weight="bold" text-anchor="end" fill="#111"  stroke="#111" stroke-width="0.22">0</text>
<line x1="24.4" y1="113.6" x2="26.6" y2="113.6" stroke="#404040" stroke-width="0.8" />
<text x="22.5" y="115.66" font-size="7.4" font-weight="bold" text-anchor="end" fill="#111"  stroke="#111" stroke-width="0.22">1</text>
<line x1="24.4" y1="86.2" x2="26.6" y2="86.2" stroke="#404040" stroke-width="0.8" />
<text x="22.5" y="88.26" font-size="7.4" font-weight="bold" text-anchor="end" fill="#111"  stroke="#111" stroke-width="0.22">2</text>
<line x1="24.4" y1="58.8" x2="26.6" y2="58.8" stroke="#404040" stroke-width="0.8" />
<text x="22.5" y="60.86" font-size="7.4" font-weight="bold" text-anchor="end" fill="#111"  stroke="#111" stroke-width="0.22">3</text>
<line x1="24.4" y1="31.4" x2="26.6" y2="31.4" stroke="#404040" stroke-width="0.8" />
<text x="22.5" y="33.46" font-size="7.4" font-weight="bold" text-anchor="end" fill="#111"  stroke="#111" stroke-width="0.22">4</text>
<line x1="24.4" y1="4" x2="26.6" y2="4" stroke="#404040" stroke-width="0.8" />
<text x="22.5" y="6.06" font-size="7.4" font-weight="bold" text-anchor="end" fill="#111"  stroke="#111" stroke-width="0.22">5</text>
<line x1="25.3" y1="127.3" x2="26.6" y2="127.3" stroke="#404040" stroke-width="0.8" />
<line x1="25.3" y1="99.9" x2="26.6" y2="99.9" stroke="#404040" stroke-width="0.8" />
<line x1="25.3" y1="72.5" x2="26.6" y2="72.5" stroke="#404040" stroke-width="0.8" />
<line x1="25.3" y1="45.1" x2="26.6" y2="45.1" stroke="#404040" stroke-width="0.8" />
<line x1="25.3" y1="17.7" x2="26.6" y2="17.7" stroke="#404040" stroke-width="0.8" />
<line x1="45.68" y1="141.2" x2="45.68" y2="143.4" stroke="#404040" stroke-width="0.8" />
<text x="45.68" y="151.8" font-size="7.4" font-weight="bold" text-anchor="middle" fill="#111"  stroke="#111" stroke-width="0.22">5</text>
<line x1="67.03" y1="141.2" x2="67.03" y2="143.4" stroke="#404040" stroke-width="0.8" />
<text x="67.03" y="151.8" font-size="7.4" font-weight="bold" text-anchor="middle" fill="#111"  stroke="#111" stroke-width="0.22">10</text>
<line x1="88.38" y1="141.2" x2="88.38" y2="143.4" stroke="#404040" stroke-width="0.8" />
<text x="88.38" y="151.8" font-size="7.4" font-weight="bold" text-anchor="middle" fill="#111"  stroke="#111" stroke-width="0.22">15</text>
<line x1="109.73" y1="141.2" x2="109.73" y2="143.4" stroke="#404040" stroke-width="0.8" />
<text x="109.73" y="151.8" font-size="7.4" font-weight="bold" text-anchor="middle" fill="#111"  stroke="#111" stroke-width="0.22">20</text>
<line x1="131.08" y1="141.2" x2="131.08" y2="143.4" stroke="#404040" stroke-width="0.8" />
<text x="131.08" y="151.8" font-size="7.4" font-weight="bold" text-anchor="middle" fill="#111"  stroke="#111" stroke-width="0.22">25</text>
<line x1="152.43" y1="141.2" x2="152.43" y2="143.4" stroke="#404040" stroke-width="0.8" />
<text x="152.43" y="151.8" font-size="7.4" font-weight="bold" text-anchor="middle" fill="#111"  stroke="#111" stroke-width="0.22">30</text>
<line x1="173.78" y1="141.2" x2="173.78" y2="143.4" stroke="#404040" stroke-width="0.8" />
<text x="173.78" y="151.8" font-size="7.4" font-weight="bold" text-anchor="middle" fill="#111"  stroke="#111" stroke-width="0.22">35</text>
<line x1="195.13" y1="141.2" x2="195.13" y2="143.4" stroke="#404040" stroke-width="0.8" />
<text x="195.13" y="151.8" font-size="7.4" font-weight="bold" text-anchor="middle" fill="#111"  stroke="#111" stroke-width="0.22">40</text>
<line x1="35.01" y1="141.2" x2="35.01" y2="142.5" stroke="#404040" stroke-width="0.8" />
<line x1="56.35" y1="141.2" x2="56.35" y2="142.5" stroke="#404040" stroke-width="0.8" />
<line x1="77.7" y1="141.2" x2="77.7" y2="142.5" stroke="#404040" stroke-width="0.8" />
<line x1="99.06" y1="141.2" x2="99.06" y2="142.5" stroke="#404040" stroke-width="0.8" />
<line x1="120.41" y1="141.2" x2="120.41" y2="142.5" stroke="#404040" stroke-width="0.8" />
<line x1="141.75" y1="141.2" x2="141.75" y2="142.5" stroke="#404040" stroke-width="0.8" />
<line x1="163.1" y1="141.2" x2="163.1" y2="142.5" stroke="#404040" stroke-width="0.8" />
<text x="73.3" y="165.9" font-size="9.5" font-weight="bold" text-anchor="start" fill="#111" textLength="77" lengthAdjust="spacingAndGlyphs"  stroke="#111" stroke-width="0.2">Carbon Number</text>
<text transform="translate(14.6,72) rotate(-90)" x="0" y="0" font-size="10" font-weight="bold" text-anchor="middle" fill="#111" textLength="44.2" lengthAdjust="spacingAndGlyphs" stroke="#111" stroke-width="0.2">Yield (%)</text>
<rect x="132.3" y="3.4" width="23.2" height="9.3" fill="#a3bff0" stroke="#7d8aa0" stroke-width="0.7" />
<rect x="132.3" y="17.5" width="23.2" height="9" fill="#f4f9a6" stroke="#a6a981" stroke-width="0.7" />
<text x="159.2" y="10.8" font-size="8.4" fill="#111" stroke="#111" stroke-width="0.15">With H<tspan font-size="5.8" dy="1.9">2</tspan><tspan dy="-1.9">O</tspan></text>
<text x="159.2" y="25" font-size="8.4" fill="#111" stroke="#111" stroke-width="0.15">With D<tspan font-size="5.8" dy="1.9">2</tspan><tspan dy="-1.9">O</tspan></text>
<text x="231.5" y="16.8" font-size="22" font-weight="bold" text-anchor="start" fill="#111"  stroke="#111" stroke-width="0.35">b</text>
<line x1="262.5" y1="2.6" x2="262.5" y2="87.2" stroke="#404040" stroke-width="0.9" />
<line x1="262.5" y1="89.8" x2="262.5" y2="141" stroke="#404040" stroke-width="0.9" />
<line x1="260" y1="88.3" x2="265.7" y2="86" stroke="#555" stroke-width="0.7" />
<line x1="260" y1="90.6" x2="265.7" y2="88.4" stroke="#555" stroke-width="0.7" />
<line x1="262.5" y1="140.5" x2="433.7" y2="140.5" stroke="#404040" stroke-width="0.9" />
<line x1="433.7" y1="140.5" x2="433.7" y2="139" stroke="#404040" stroke-width="0.8" />
<line x1="260.3" y1="3.4" x2="262.5" y2="3.4" stroke="#404040" stroke-width="0.8" />
<text x="258.4" y="6.16" font-size="7.4" font-weight="bold" text-anchor="end" fill="#111"  stroke="#111" stroke-width="0.22">90</text>
<line x1="260.3" y1="32.3" x2="262.5" y2="32.3" stroke="#404040" stroke-width="0.8" />
<text x="258.4" y="34.36" font-size="7.4" font-weight="bold" text-anchor="end" fill="#111"  stroke="#111" stroke-width="0.22">80</text>
<line x1="260.3" y1="61.2" x2="262.5" y2="61.2" stroke="#404040" stroke-width="0.8" />
<text x="258.4" y="63.26" font-size="7.4" font-weight="bold" text-anchor="end" fill="#111"  stroke="#111" stroke-width="0.22">70</text>
<line x1="261.2" y1="17.85" x2="262.5" y2="17.85" stroke="#404040" stroke-width="0.8" />
<line x1="261.2" y1="46.75" x2="262.5" y2="46.75" stroke="#404040" stroke-width="0.8" />
<line x1="261.2" y1="75.65" x2="262.5" y2="75.65" stroke="#404040" stroke-width="0.8" />
<line x1="260.3" y1="109.9" x2="262.5" y2="109.9" stroke="#404040" stroke-width="0.8" />
<text x="258.4" y="111.96" font-size="7.4" font-weight="bold" text-anchor="end" fill="#111"  stroke="#111" stroke-width="0.22">10</text>
<line x1="260.3" y1="139.2" x2="262.5" y2="139.2" stroke="#404040" stroke-width="0.8" />
<text x="258.4" y="141.26" font-size="7.4" font-weight="bold" text-anchor="end" fill="#111"  stroke="#111" stroke-width="0.22">0</text>
<line x1="261.2" y1="95.25" x2="262.5" y2="95.25" stroke="#404040" stroke-width="0.8" />
<line x1="261.2" y1="124.55" x2="262.5" y2="124.55" stroke="#404040" stroke-width="0.8" />
<line x1="279.5" y1="140.5" x2="279.5" y2="142.7" stroke="#404040" stroke-width="0.8" />
<text x="279.5" y="150.6" font-size="7.4" font-weight="bold" text-anchor="middle" fill="#111"  stroke="#111" stroke-width="0.22">0</text>
<line x1="313.7" y1="140.5" x2="313.7" y2="142.7" stroke="#404040" stroke-width="0.8" />
<text x="313.7" y="150.6" font-size="7.4" font-weight="bold" text-anchor="middle" fill="#111"  stroke="#111" stroke-width="0.22">1</text>
<line x1="347.9" y1="140.5" x2="347.9" y2="142.7" stroke="#404040" stroke-width="0.8" />
<text x="347.9" y="150.6" font-size="7.4" font-weight="bold" text-anchor="middle" fill="#111"  stroke="#111" stroke-width="0.22">2</text>
<line x1="382.1" y1="140.5" x2="382.1" y2="142.7" stroke="#404040" stroke-width="0.8" />
<text x="382.1" y="150.6" font-size="7.4" font-weight="bold" text-anchor="middle" fill="#111"  stroke="#111" stroke-width="0.22">3</text>
<line x1="416.3" y1="140.5" x2="416.3" y2="142.7" stroke="#404040" stroke-width="0.8" />
<text x="416.3" y="150.6" font-size="7.4" font-weight="bold" text-anchor="middle" fill="#111"  stroke="#111" stroke-width="0.22">4</text>
<line x1="296.6" y1="140.5" x2="296.6" y2="141.8" stroke="#404040" stroke-width="0.8" />
<line x1="330.8" y1="140.5" x2="330.8" y2="141.8" stroke="#404040" stroke-width="0.8" />
<line x1="365" y1="140.5" x2="365" y2="141.8" stroke="#404040" stroke-width="0.8" />
<line x1="399.2" y1="140.5" x2="399.2" y2="141.8" stroke="#404040" stroke-width="0.8" />
<text x="272" y="165.5" font-size="9.5" font-weight="bold" text-anchor="start" fill="#111" textLength="152.3" lengthAdjust="spacingAndGlyphs"  stroke="#111" stroke-width="0.2">Number of substituted D-atoms</text>
<text transform="translate(246.5,71) rotate(-90)" x="0" y="0" font-size="10" font-weight="bold" text-anchor="middle" fill="#111" textLength="68.8" lengthAdjust="spacingAndGlyphs" stroke="#111" stroke-width="0.2">Selectivity (%)</text>
<polyline points="279.5,13.1 313.7,138.4" fill="none" stroke="#555" stroke-width="0.55"/>
<polyline points="279.5,115.8 313.7,138.6" fill="none" stroke="#555" stroke-width="0.55"/>
<polyline points="279.5,129.2 313.7,138.6" fill="none" stroke="#555" stroke-width="0.55"/>
<polyline points="279.5,134 313.7,138.7" fill="none" stroke="#555" stroke-width="0.55"/>
<polyline points="313.7,138.7 416.3,138.7" fill="none" stroke="#9a9a9a" stroke-width="0.8"/>
<rect x="278.1" y="11.7" width="2.8" height="2.8" fill="#404040" stroke="none" stroke-width="0.6" />
<rect x="312.3" y="137" width="2.8" height="2.8" fill="#404040" stroke="none" stroke-width="0.6" />
<rect x="346.5" y="137.2" width="2.8" height="2.8" fill="#404040" stroke="none" stroke-width="0.6" />
<rect x="380.7" y="137.2" width="2.8" height="2.8" fill="#404040" stroke="none" stroke-width="0.6" />
<rect x="414.9" y="137.2" width="2.8" height="2.8" fill="#404040" stroke="none" stroke-width="0.6" />
<circle cx="279.5" cy="115.8" r="1.75" fill="#f03a3a"/>
<circle cx="313.7" cy="138.6" r="1.75" fill="#f03a3a"/>
<circle cx="347.9" cy="138.8" r="1.75" fill="#f03a3a"/>
<circle cx="382.1" cy="138.8" r="1.75" fill="#f03a3a"/>
<circle cx="416.3" cy="138.8" r="1.75" fill="#f03a3a"/>
<polygon points="277.4,130.7 281.6,130.7 279.5,127.1" fill="#3a70f0"/>
<polygon points="311.6,140.1 315.8,140.1 313.7,136.5" fill="#3a70f0"/>
<polygon points="345.8,140.3 350,140.3 347.9,136.7" fill="#3a70f0"/>
<polygon points="380,140.3 384.2,140.3 382.1,136.7" fill="#3a70f0"/>
<polygon points="414.2,140.3 418.4,140.3 416.3,136.7" fill="#3a70f0"/>
<polygon points="277.4,132.5 281.6,132.5 279.5,136.1" fill="#36b253"/>
<polygon points="311.6,137.2 315.8,137.2 313.7,140.8" fill="#36b253"/>
<polygon points="345.8,137.3 350,137.3 347.9,140.9" fill="#36b253"/>
<polygon points="380,137.3 384.2,137.3 382.1,140.9" fill="#36b253"/>
<polygon points="414.2,137.3 418.4,137.3 416.3,140.9" fill="#36b253"/>
<text x="456.4" y="16.8" font-size="21.5" font-weight="bold" text-anchor="start" fill="#111" textLength="9.5" lengthAdjust="spacingAndGlyphs"  stroke="#111" stroke-width="0.35">c</text>
<line x1="486.4" y1="2.6" x2="486.4" y2="87.2" stroke="#404040" stroke-width="0.9" />
<line x1="486.4" y1="89.8" x2="486.4" y2="141" stroke="#404040" stroke-width="0.9" />
<line x1="483.9" y1="88.3" x2="489.6" y2="86" stroke="#555" stroke-width="0.7" />
<line x1="483.9" y1="90.6" x2="489.6" y2="88.4" stroke="#555" stroke-width="0.7" />
<line x1="486.4" y1="140.5" x2="657.6" y2="140.5" stroke="#404040" stroke-width="0.9" />
<line x1="657.6" y1="140.5" x2="657.6" y2="139" stroke="#404040" stroke-width="0.8" />
<line x1="484.2" y1="3.4" x2="486.4" y2="3.4" stroke="#404040" stroke-width="0.8" />
<text x="482.3" y="6.16" font-size="7.4" font-weight="bold" text-anchor="end" fill="#111"  stroke="#111" stroke-width="0.22">90</text>
<line x1="484.2" y1="32.3" x2="486.4" y2="32.3" stroke="#404040" stroke-width="0.8" />
<text x="482.3" y="34.36" font-size="7.4" font-weight="bold" text-anchor="end" fill="#111"  stroke="#111" stroke-width="0.22">80</text>
<line x1="484.2" y1="61.2" x2="486.4" y2="61.2" stroke="#404040" stroke-width="0.8" />
<text x="482.3" y="63.26" font-size="7.4" font-weight="bold" text-anchor="end" fill="#111"  stroke="#111" stroke-width="0.22">70</text>
<line x1="485.1" y1="17.85" x2="486.4" y2="17.85" stroke="#404040" stroke-width="0.8" />
<line x1="485.1" y1="46.75" x2="486.4" y2="46.75" stroke="#404040" stroke-width="0.8" />
<line x1="485.1" y1="75.65" x2="486.4" y2="75.65" stroke="#404040" stroke-width="0.8" />
<line x1="484.2" y1="109.9" x2="486.4" y2="109.9" stroke="#404040" stroke-width="0.8" />
<text x="482.3" y="111.96" font-size="7.4" font-weight="bold" text-anchor="end" fill="#111"  stroke="#111" stroke-width="0.22">10</text>
<line x1="484.2" y1="139.2" x2="486.4" y2="139.2" stroke="#404040" stroke-width="0.8" />
<text x="482.3" y="141.26" font-size="7.4" font-weight="bold" text-anchor="end" fill="#111"  stroke="#111" stroke-width="0.22">0</text>
<line x1="485.1" y1="95.25" x2="486.4" y2="95.25" stroke="#404040" stroke-width="0.8" />
<line x1="485.1" y1="124.55" x2="486.4" y2="124.55" stroke="#404040" stroke-width="0.8" />
<line x1="503.4" y1="140.5" x2="503.4" y2="142.7" stroke="#404040" stroke-width="0.8" />
<text x="503.4" y="150.6" font-size="7.4" font-weight="bold" text-anchor="middle" fill="#111"  stroke="#111" stroke-width="0.22">0</text>
<line x1="537.6" y1="140.5" x2="537.6" y2="142.7" stroke="#404040" stroke-width="0.8" />
<text x="537.6" y="150.6" font-size="7.4" font-weight="bold" text-anchor="middle" fill="#111"  stroke="#111" stroke-width="0.22">1</text>
<line x1="571.8" y1="140.5" x2="571.8" y2="142.7" stroke="#404040" stroke-width="0.8" />
<text x="571.8" y="150.6" font-size="7.4" font-weight="bold" text-anchor="middle" fill="#111"  stroke="#111" stroke-width="0.22">2</text>
<line x1="606" y1="140.5" x2="606" y2="142.7" stroke="#404040" stroke-width="0.8" />
<text x="606" y="150.6" font-size="7.4" font-weight="bold" text-anchor="middle" fill="#111"  stroke="#111" stroke-width="0.22">3</text>
<line x1="640.2" y1="140.5" x2="640.2" y2="142.7" stroke="#404040" stroke-width="0.8" />
<text x="640.2" y="150.6" font-size="7.4" font-weight="bold" text-anchor="middle" fill="#111"  stroke="#111" stroke-width="0.22">4</text>
<line x1="520.5" y1="140.5" x2="520.5" y2="141.8" stroke="#404040" stroke-width="0.8" />
<line x1="554.7" y1="140.5" x2="554.7" y2="141.8" stroke="#404040" stroke-width="0.8" />
<line x1="588.9" y1="140.5" x2="588.9" y2="141.8" stroke="#404040" stroke-width="0.8" />
<line x1="623.1" y1="140.5" x2="623.1" y2="141.8" stroke="#404040" stroke-width="0.8" />
<text x="495.9" y="165.5" font-size="9.5" font-weight="bold" text-anchor="start" fill="#111" textLength="152.3" lengthAdjust="spacingAndGlyphs"  stroke="#111" stroke-width="0.2">Number of substituted D-atoms</text>
<text transform="translate(470.4,71) rotate(-90)" x="0" y="0" font-size="10" font-weight="bold" text-anchor="middle" fill="#111" textLength="68.8" lengthAdjust="spacingAndGlyphs" stroke="#111" stroke-width="0.2">Selectivity (%)</text>
<polyline points="503.4,33.4 537.6,129.4 571.8,138.2" fill="none" stroke="#555" stroke-width="0.55"/>
<polyline points="503.4,97.6 537.6,138.6" fill="none" stroke="#555" stroke-width="0.55"/>
<polyline points="503.4,133.6 537.6,138.7" fill="none" stroke="#555" stroke-width="0.55"/>
<polyline points="537.6,138.7 640.2,138.7" fill="none" stroke="#9a9a9a" stroke-width="0.8"/>
<rect x="502" y="32" width="2.8" height="2.8" fill="#404040" stroke="none" stroke-width="0.6" />
<rect x="536.2" y="128" width="2.8" height="2.8" fill="#404040" stroke="none" stroke-width="0.6" />
<rect x="570.4" y="136.8" width="2.8" height="2.8" fill="#404040" stroke="none" stroke-width="0.6" />
<rect x="604.6" y="137.1" width="2.8" height="2.8" fill="#404040" stroke="none" stroke-width="0.6" />
<rect x="638.8" y="137.1" width="2.8" height="2.8" fill="#404040" stroke="none" stroke-width="0.6" />
<circle cx="503.4" cy="97.6" r="1.75" fill="#f03a3a"/>
<circle cx="537.6" cy="138.6" r="1.75" fill="#f03a3a"/>
<circle cx="571.8" cy="138.8" r="1.75" fill="#f03a3a"/>
<circle cx="606" cy="138.8" r="1.75" fill="#f03a3a"/>
<circle cx="640.2" cy="138.8" r="1.75" fill="#f03a3a"/>
<polygon points="501.3,135.1 505.5,135.1 503.4,131.5" fill="#3a70f0"/>
<polygon points="535.5,140.2 539.7,140.2 537.6,136.6" fill="#3a70f0"/>
<polygon points="569.7,140.3 573.9,140.3 571.8,136.7" fill="#3a70f0"/>
<polygon points="603.9,140.3 608.1,140.3 606,136.7" fill="#3a70f0"/>
<polygon points="638.1,140.3 642.3,140.3 640.2,136.7" fill="#3a70f0"/>
<polygon points="501.3,137.1 505.5,137.1 503.4,140.7" fill="#36b253"/>
<polygon points="535.5,137.3 539.7,137.3 537.6,140.9" fill="#36b253"/>
<polygon points="569.7,137.3 573.9,137.3 571.8,140.9" fill="#36b253"/>
<polygon points="603.9,137.3 608.1,137.3 606,140.9" fill="#36b253"/>
<polygon points="638.1,137.3 642.3,137.3 640.2,140.9" fill="#36b253"/>
<line x1="607.5" y1="10.9" x2="624.4" y2="10.9" stroke="#6a6a6a" stroke-width="0.6" />
<rect x="614.6" y="9.5" width="2.8" height="2.8" fill="#404040" stroke="none" stroke-width="0.6" />
<text x="627.3" y="13.1" font-size="7.6" font-weight="normal" text-anchor="start" fill="#111"  stroke="#111" stroke-width="0.15">Methane</text>
<line x1="607.5" y1="20.4" x2="624.4" y2="20.4" stroke="#6a6a6a" stroke-width="0.6" />
<circle cx="616" cy="20.4" r="1.75" fill="#f03a3a"/>
<text x="627.3" y="22.6" font-size="7.6" font-weight="normal" text-anchor="start" fill="#111"  stroke="#111" stroke-width="0.15">Ethane</text>
<line x1="607.5" y1="29.9" x2="624.4" y2="29.9" stroke="#6a6a6a" stroke-width="0.6" />
<polygon points="613.9,31.4 618.1,31.4 616,27.8" fill="#3a70f0"/>
<text x="627.3" y="32.1" font-size="7.6" font-weight="normal" text-anchor="start" fill="#111"  stroke="#111" stroke-width="0.15">Propane</text>
<line x1="607.5" y1="39.4" x2="624.4" y2="39.4" stroke="#6a6a6a" stroke-width="0.6" />
<polygon points="613.9,37.9 618.1,37.9 616,41.5" fill="#36b253"/>
<text x="627.3" y="41.6" font-size="7.6" font-weight="normal" text-anchor="start" fill="#111"  stroke="#111" stroke-width="0.15">Butane</text>
<text x="1.8" y="209.6" font-size="21" font-weight="bold" text-anchor="start" fill="#111" textLength="11.3" lengthAdjust="spacingAndGlyphs"  stroke="#111" stroke-width="0.35">d</text>
<rect x="29.2" y="322.72" width="4" height="3.78" fill="#f3c896" stroke="#8c7f70" stroke-width="0.5" />
<rect x="33.4" y="318.25" width="4" height="8.25" fill="#a6e3a0" stroke="#6f8f6f" stroke-width="0.5" />
<rect x="43.46" y="324.99" width="4" height="1.51" fill="#f3c896" stroke="#8c7f70" stroke-width="0.5" />
<rect x="47.66" y="324.3" width="4" height="2.2" fill="#a6e3a0" stroke="#6f8f6f" stroke-width="0.5" />
<rect x="57.72" y="325.12" width="4" height="1.38" fill="#f3c896" stroke="#8c7f70" stroke-width="0.5" />
<rect x="61.92" y="324.64" width="4" height="1.86" fill="#a6e3a0" stroke="#6f8f6f" stroke-width="0.5" />
<rect x="71.98" y="324.99" width="4" height="1.51" fill="#f3c896" stroke="#8c7f70" stroke-width="0.5" />
<rect x="76.18" y="324.44" width="4" height="2.06" fill="#a6e3a0" stroke="#6f8f6f" stroke-width="0.5" />
<rect x="86.24" y="323.06" width="4" height="3.44" fill="#f3c896" stroke="#8c7f70" stroke-width="0.5" />
<rect x="90.44" y="321.34" width="4" height="5.16" fill="#a6e3a0" stroke="#6f8f6f" stroke-width="0.5" />
<rect x="100.5" y="319.62" width="4" height="6.88" fill="#f3c896" stroke="#8c7f70" stroke-width="0.5" />
<rect x="104.7" y="316.19" width="4" height="10.31" fill="#a6e3a0" stroke="#6f8f6f" stroke-width="0.5" />
<rect x="114.76" y="316.05" width="4" height="10.45" fill="#f3c896" stroke="#8c7f70" stroke-width="0.5" />
<rect x="118.96" y="310.34" width="4" height="16.16" fill="#a6e3a0" stroke="#6f8f6f" stroke-width="0.5" />
<rect x="114.76" y="316.05" width="4" height="0.69" fill="url(#hatchO)" stroke="none" stroke-width="0.6" />
<rect x="129.02" y="311.03" width="4" height="15.47" fill="#f3c896" stroke="#8c7f70" stroke-width="0.5" />
<rect x="133.22" y="302.44" width="4" height="24.06" fill="#a6e3a0" stroke="#6f8f6f" stroke-width="0.5" />
<rect x="129.02" y="311.03" width="4" height="1.03" fill="url(#hatchO)" stroke="none" stroke-width="0.6" />
<rect x="133.22" y="302.44" width="4" height="0.69" fill="url(#hatchG)" stroke="none" stroke-width="0.6" />
<rect x="143.28" y="301.27" width="4" height="25.23" fill="#f3c896" stroke="#8c7f70" stroke-width="0.5" />
<rect x="147.48" y="288" width="4" height="38.5" fill="#a6e3a0" stroke="#6f8f6f" stroke-width="0.5" />
<rect x="143.28" y="301.27" width="4" height="1.38" fill="url(#hatchO)" stroke="none" stroke-width="0.6" />
<rect x="147.48" y="288" width="4" height="1.03" fill="url(#hatchG)" stroke="none" stroke-width="0.6" />
<rect x="157.54" y="278.72" width="4" height="47.78" fill="#f3c896" stroke="#8c7f70" stroke-width="0.5" />
<rect x="161.74" y="259.47" width="4" height="67.03" fill="#a6e3a0" stroke="#6f8f6f" stroke-width="0.5" />
<rect x="157.54" y="278.72" width="4" height="2.06" fill="url(#hatchO)" stroke="none" stroke-width="0.6" />
<rect x="161.74" y="259.47" width="4" height="1.72" fill="url(#hatchG)" stroke="none" stroke-width="0.6" />
<rect x="171.8" y="235.06" width="4" height="91.44" fill="#f3c896" stroke="#8c7f70" stroke-width="0.5" />
<rect x="176" y="214.44" width="4" height="112.06" fill="#a6e3a0" stroke="#6f8f6f" stroke-width="0.5" />
<rect x="171.8" y="235.06" width="4" height="3.44" fill="url(#hatchO)" stroke="none" stroke-width="0.6" />
<rect x="176" y="214.44" width="4" height="2.41" fill="url(#hatchG)" stroke="none" stroke-width="0.6" />
<rect x="186.06" y="312.41" width="4" height="14.09" fill="url(#hatchO)" stroke="#9a7a5a" stroke-width="0.5" />
<rect x="190.26" y="321.41" width="4" height="5.09" fill="url(#hatchG)" stroke="#6a8a6a" stroke-width="0.5" />
<line x1="26.6" y1="188.6" x2="26.6" y2="327" stroke="#404040" stroke-width="0.9" />
<line x1="26.2" y1="326.5" x2="198" y2="326.5" stroke="#404040" stroke-width="0.9" />
<line x1="24.4" y1="326.5" x2="26.6" y2="326.5" stroke="#404040" stroke-width="0.8" />
<text x="22.5" y="328.56" font-size="7.4" font-weight="bold" text-anchor="end" fill="#111"  stroke="#111" stroke-width="0.22">0</text>
<line x1="24.4" y1="292.12" x2="26.6" y2="292.12" stroke="#404040" stroke-width="0.8" />
<text x="22.5" y="294.19" font-size="7.4" font-weight="bold" text-anchor="end" fill="#111"  stroke="#111" stroke-width="0.22">5</text>
<line x1="24.4" y1="257.75" x2="26.6" y2="257.75" stroke="#404040" stroke-width="0.8" />
<text x="22.5" y="259.81" font-size="7.4" font-weight="bold" text-anchor="end" fill="#111"  stroke="#111" stroke-width="0.22">10</text>
<line x1="24.4" y1="223.38" x2="26.6" y2="223.38" stroke="#404040" stroke-width="0.8" />
<text x="22.5" y="225.44" font-size="7.4" font-weight="bold" text-anchor="end" fill="#111"  stroke="#111" stroke-width="0.22">15</text>
<line x1="24.4" y1="189" x2="26.6" y2="189" stroke="#404040" stroke-width="0.8" />
<text x="22.5" y="191.06" font-size="7.4" font-weight="bold" text-anchor="end" fill="#111"  stroke="#111" stroke-width="0.22">20</text>
<line x1="25.3" y1="309.31" x2="26.6" y2="309.31" stroke="#404040" stroke-width="0.8" />
<line x1="25.3" y1="274.94" x2="26.6" y2="274.94" stroke="#404040" stroke-width="0.8" />
<line x1="25.3" y1="240.56" x2="26.6" y2="240.56" stroke="#404040" stroke-width="0.8" />
<line x1="25.3" y1="206.19" x2="26.6" y2="206.19" stroke="#404040" stroke-width="0.8" />
<line x1="33.6" y1="326.5" x2="33.6" y2="328.7" stroke="#404040" stroke-width="0.8" />
<text x="33.6" y="336.8" font-size="7.4" font-weight="bold" text-anchor="middle" fill="#111"  stroke="#111" stroke-width="0.22">1</text>
<line x1="40.73" y1="326.5" x2="40.73" y2="327.8" stroke="#404040" stroke-width="0.8" />
<line x1="47.86" y1="326.5" x2="47.86" y2="328.7" stroke="#404040" stroke-width="0.8" />
<text x="47.86" y="336.8" font-size="7.4" font-weight="bold" text-anchor="middle" fill="#111"  stroke="#111" stroke-width="0.22">2</text>
<line x1="54.99" y1="326.5" x2="54.99" y2="327.8" stroke="#404040" stroke-width="0.8" />
<line x1="62.12" y1="326.5" x2="62.12" y2="328.7" stroke="#404040" stroke-width="0.8" />
<text x="62.12" y="336.8" font-size="7.4" font-weight="bold" text-anchor="middle" fill="#111"  stroke="#111" stroke-width="0.22">3</text>
<line x1="69.25" y1="326.5" x2="69.25" y2="327.8" stroke="#404040" stroke-width="0.8" />
<line x1="76.38" y1="326.5" x2="76.38" y2="328.7" stroke="#404040" stroke-width="0.8" />
<text x="76.38" y="336.8" font-size="7.4" font-weight="bold" text-anchor="middle" fill="#111"  stroke="#111" stroke-width="0.22">4</text>
<line x1="83.51" y1="326.5" x2="83.51" y2="327.8" stroke="#404040" stroke-width="0.8" />
<line x1="90.64" y1="326.5" x2="90.64" y2="328.7" stroke="#404040" stroke-width="0.8" />
<text x="90.64" y="336.8" font-size="7.4" font-weight="bold" text-anchor="middle" fill="#111"  stroke="#111" stroke-width="0.22">5</text>
<line x1="97.77" y1="326.5" x2="97.77" y2="327.8" stroke="#404040" stroke-width="0.8" />
<line x1="104.9" y1="326.5" x2="104.9" y2="328.7" stroke="#404040" stroke-width="0.8" />
<text x="104.9" y="336.8" font-size="7.4" font-weight="bold" text-anchor="middle" fill="#111"  stroke="#111" stroke-width="0.22">6</text>
<line x1="112.03" y1="326.5" x2="112.03" y2="327.8" stroke="#404040" stroke-width="0.8" />
<line x1="119.16" y1="326.5" x2="119.16" y2="328.7" stroke="#404040" stroke-width="0.8" />
<text x="119.16" y="336.8" font-size="7.4" font-weight="bold" text-anchor="middle" fill="#111"  stroke="#111" stroke-width="0.22">7</text>
<line x1="126.29" y1="326.5" x2="126.29" y2="327.8" stroke="#404040" stroke-width="0.8" />
<line x1="133.42" y1="326.5" x2="133.42" y2="328.7" stroke="#404040" stroke-width="0.8" />
<text x="133.42" y="336.8" font-size="7.4" font-weight="bold" text-anchor="middle" fill="#111"  stroke="#111" stroke-width="0.22">8</text>
<line x1="140.55" y1="326.5" x2="140.55" y2="327.8" stroke="#404040" stroke-width="0.8" />
<line x1="147.68" y1="326.5" x2="147.68" y2="328.7" stroke="#404040" stroke-width="0.8" />
<text x="147.68" y="336.8" font-size="7.4" font-weight="bold" text-anchor="middle" fill="#111"  stroke="#111" stroke-width="0.22">9</text>
<line x1="154.81" y1="326.5" x2="154.81" y2="327.8" stroke="#404040" stroke-width="0.8" />
<line x1="161.94" y1="326.5" x2="161.94" y2="328.7" stroke="#404040" stroke-width="0.8" />
<text x="161.94" y="336.8" font-size="7.4" font-weight="bold" text-anchor="middle" fill="#111"  stroke="#111" stroke-width="0.22">10</text>
<line x1="169.07" y1="326.5" x2="169.07" y2="327.8" stroke="#404040" stroke-width="0.8" />
<line x1="176.2" y1="326.5" x2="176.2" y2="328.7" stroke="#404040" stroke-width="0.8" />
<text x="176.2" y="336.8" font-size="7.4" font-weight="bold" text-anchor="middle" fill="#111"  stroke="#111" stroke-width="0.22">11</text>
<line x1="183.33" y1="326.5" x2="183.33" y2="327.8" stroke="#404040" stroke-width="0.8" />
<line x1="190.46" y1="326.5" x2="190.46" y2="328.7" stroke="#404040" stroke-width="0.8" />
<text x="190.46" y="336.8" font-size="7.4" font-weight="bold" text-anchor="middle" fill="#111"  stroke="#111" stroke-width="0.22">12</text>
<line x1="197.59" y1="326.5" x2="197.59" y2="327.8" stroke="#404040" stroke-width="0.8" />
<text x="74" y="351.2" font-size="9.5" font-weight="bold" text-anchor="start" fill="#111" textLength="75.6" lengthAdjust="spacingAndGlyphs"  stroke="#111" stroke-width="0.2">Carbon Number</text>
<text transform="translate(8.6,257) rotate(-90)" x="0" y="0" font-size="10" font-weight="bold" text-anchor="middle" fill="#111" textLength="44.3" lengthAdjust="spacingAndGlyphs" stroke="#111" stroke-width="0.2">Yield (%)</text>
<rect x="29.9" y="187.2" width="15.6" height="8" fill="#f3c896" stroke="#8a8a8a" stroke-width="0.6" />
<rect x="29.9" y="196.2" width="15.6" height="7.7" fill="#a6e3a0" stroke="#8a8a8a" stroke-width="0.6" />
<rect x="29.9" y="205.1" width="15.6" height="7.7" fill="url(#hatchW)" stroke="#9a9a9a" stroke-width="0.6" />
<text x="47.9" y="194" font-size="7.2" font-weight="normal" text-anchor="start" fill="#111" textLength="43.5" lengthAdjust="spacingAndGlyphs"  stroke="#111" stroke-width="0.15">Without water</text>
<text x="47.9" y="202.8" font-size="7.2" font-weight="normal" text-anchor="start" fill="#111" textLength="33.2" lengthAdjust="spacingAndGlyphs"  stroke="#111" stroke-width="0.15">With water</text>
<text x="47.9" y="211.5" font-size="7.2" font-weight="normal" text-anchor="start" fill="#111" textLength="21.5" lengthAdjust="spacingAndGlyphs"  stroke="#111" stroke-width="0.15">Isomer</text>
<text x="230.6" y="210.9" font-size="22" font-weight="bold" text-anchor="start" fill="#111"  stroke="#111" stroke-width="0.35">e</text>
<rect x="265.6" y="325.74" width="3.6" height="0.76" fill="url(#hatchO)" stroke="#9a7a5a" stroke-width="0.5" />
<rect x="265.6" y="325.74" width="3.6" height="0.76" fill="#f3c896" stroke="#9a8a70" stroke-width="0.5" />
<rect x="269.7" y="323.1" width="3.75" height="3.4" fill="#a6e3a0" stroke="#6f8f6f" stroke-width="0.5" />
<rect x="279.85" y="326.12" width="3.6" height="0.38" fill="url(#hatchO)" stroke="#9a7a5a" stroke-width="0.5" />
<rect x="279.85" y="326.12" width="3.6" height="0.38" fill="#f3c896" stroke="#9a8a70" stroke-width="0.5" />
<rect x="283.95" y="325.37" width="3.75" height="1.13" fill="#a6e3a0" stroke="#6f8f6f" stroke-width="0.5" />
<rect x="294.1" y="326.31" width="3.6" height="0.19" fill="url(#hatchO)" stroke="#9a7a5a" stroke-width="0.5" />
<rect x="294.1" y="326.31" width="3.6" height="0.19" fill="#f3c896" stroke="#9a8a70" stroke-width="0.5" />
<rect x="298.2" y="325.56" width="3.75" height="0.94" fill="#a6e3a0" stroke="#6f8f6f" stroke-width="0.5" />
<rect x="308.35" y="326.31" width="3.6" height="0.19" fill="url(#hatchO)" stroke="#9a7a5a" stroke-width="0.5" />
<rect x="308.35" y="326.31" width="3.6" height="0.19" fill="#f3c896" stroke="#9a8a70" stroke-width="0.5" />
<rect x="312.45" y="325.37" width="3.75" height="1.13" fill="#a6e3a0" stroke="#6f8f6f" stroke-width="0.5" />
<rect x="322.6" y="326.31" width="3.6" height="0.19" fill="url(#hatchO)" stroke="#9a7a5a" stroke-width="0.5" />
<rect x="322.6" y="326.31" width="3.6" height="0.19" fill="#f3c896" stroke="#9a8a70" stroke-width="0.5" />
<rect x="326.7" y="324.42" width="3.75" height="2.08" fill="#a6e3a0" stroke="#6f8f6f" stroke-width="0.5" />
<rect x="336.85" y="325.37" width="3.6" height="1.13" fill="url(#hatchO)" stroke="#9a7a5a" stroke-width="0.5" />
<rect x="336.85" y="325.74" width="3.6" height="0.76" fill="#f3c896" stroke="#9a8a70" stroke-width="0.5" />
<rect x="340.95" y="323.1" width="3.75" height="3.4" fill="#a6e3a0" stroke="#6f8f6f" stroke-width="0.5" />
<rect x="351.1" y="322.34" width="3.6" height="4.16" fill="url(#hatchO)" stroke="#9a7a5a" stroke-width="0.5" />
<rect x="351.1" y="325.18" width="3.6" height="1.32" fill="#f3c896" stroke="#9a8a70" stroke-width="0.5" />
<rect x="355.2" y="320.64" width="3.75" height="5.86" fill="#a6e3a0" stroke="#6f8f6f" stroke-width="0.5" />
<rect x="365.35" y="321.21" width="3.6" height="5.29" fill="url(#hatchO)" stroke="#9a7a5a" stroke-width="0.5" />
<rect x="365.35" y="324.42" width="3.6" height="2.08" fill="#f3c896" stroke="#9a8a70" stroke-width="0.5" />
<rect x="369.45" y="319.13" width="3.75" height="7.37" fill="#a6e3a0" stroke="#6f8f6f" stroke-width="0.5" />
<rect x="379.6" y="321.21" width="3.6" height="5.29" fill="url(#hatchO)" stroke="#9a7a5a" stroke-width="0.5" />
<rect x="379.6" y="323.29" width="3.6" height="3.21" fill="#f3c896" stroke="#9a8a70" stroke-width="0.5" />
<rect x="383.7" y="313.65" width="3.75" height="12.85" fill="#a6e3a0" stroke="#6f8f6f" stroke-width="0.5" />
<rect x="393.85" y="317.43" width="3.6" height="9.07" fill="url(#hatchO)" stroke="#9a7a5a" stroke-width="0.5" />
<rect x="393.85" y="320.45" width="3.6" height="6.05" fill="#f3c896" stroke="#9a8a70" stroke-width="0.5" />
<rect x="397.95" y="293.99" width="3.75" height="32.51" fill="#a6e3a0" stroke="#6f8f6f" stroke-width="0.5" />
<rect x="408.1" y="267.53" width="3.6" height="58.97" fill="url(#hatchO)" stroke="#9a7a5a" stroke-width="0.5" />
<rect x="408.1" y="267.53" width="3.6" height="58.97" fill="#f3c896" stroke="#9a8a70" stroke-width="0.5" />
<rect x="412.2" y="225.95" width="3.75" height="100.55" fill="#a6e3a0" stroke="#6f8f6f" stroke-width="0.5" />
<rect x="422.35" y="196.2" width="3.6" height="130.3" fill="url(#hatchO)" stroke="#7a5a3a" stroke-width="0.55" />
<rect x="426.45" y="321.96" width="3.75" height="4.54" fill="url(#hatchG)" stroke="#6a8a6a" stroke-width="0.5" />
<polygon points="421.65,207.1 426.55,208.7 426.55,210.5 421.65,208.9" fill="#fff"/>
<line x1="262.4" y1="188.4" x2="262.4" y2="207.9" stroke="#404040" stroke-width="0.9" />
<line x1="262.4" y1="210.5" x2="262.4" y2="327" stroke="#404040" stroke-width="0.9" />
<line x1="259.9" y1="209" x2="265.6" y2="206.7" stroke="#555" stroke-width="0.7" />
<line x1="259.9" y1="211.3" x2="265.6" y2="209.1" stroke="#555" stroke-width="0.7" />
<line x1="262.2" y1="326.5" x2="434" y2="326.5" stroke="#404040" stroke-width="0.9" />
<line x1="260.2" y1="326.5" x2="262.4" y2="326.5" stroke="#404040" stroke-width="0.8" />
<text x="258.3" y="328.56" font-size="7.4" font-weight="bold" text-anchor="end" fill="#111"  stroke="#111" stroke-width="0.22">0</text>
<line x1="260.2" y1="307.6" x2="262.4" y2="307.6" stroke="#404040" stroke-width="0.8" />
<text x="258.3" y="309.66" font-size="7.4" font-weight="bold" text-anchor="end" fill="#111"  stroke="#111" stroke-width="0.22">5</text>
<line x1="260.2" y1="288.7" x2="262.4" y2="288.7" stroke="#404040" stroke-width="0.8" />
<text x="258.3" y="290.76" font-size="7.4" font-weight="bold" text-anchor="end" fill="#111"  stroke="#111" stroke-width="0.22">10</text>
<line x1="260.2" y1="269.8" x2="262.4" y2="269.8" stroke="#404040" stroke-width="0.8" />
<text x="258.3" y="271.86" font-size="7.4" font-weight="bold" text-anchor="end" fill="#111"  stroke="#111" stroke-width="0.22">15</text>
<line x1="260.2" y1="250.9" x2="262.4" y2="250.9" stroke="#404040" stroke-width="0.8" />
<text x="258.3" y="252.96" font-size="7.4" font-weight="bold" text-anchor="end" fill="#111"  stroke="#111" stroke-width="0.22">20</text>
<line x1="260.2" y1="232" x2="262.4" y2="232" stroke="#404040" stroke-width="0.8" />
<text x="258.3" y="234.06" font-size="7.4" font-weight="bold" text-anchor="end" fill="#111"  stroke="#111" stroke-width="0.22">25</text>
<line x1="260.2" y1="213.1" x2="262.4" y2="213.1" stroke="#404040" stroke-width="0.8" />
<text x="258.3" y="215.16" font-size="7.4" font-weight="bold" text-anchor="end" fill="#111"  stroke="#111" stroke-width="0.22">30</text>
<line x1="261.1" y1="317.05" x2="262.4" y2="317.05" stroke="#404040" stroke-width="0.8" />
<line x1="261.1" y1="298.15" x2="262.4" y2="298.15" stroke="#404040" stroke-width="0.8" />
<line x1="261.1" y1="279.25" x2="262.4" y2="279.25" stroke="#404040" stroke-width="0.8" />
<line x1="261.1" y1="260.35" x2="262.4" y2="260.35" stroke="#404040" stroke-width="0.8" />
<line x1="261.1" y1="241.45" x2="262.4" y2="241.45" stroke="#404040" stroke-width="0.8" />
<line x1="261.1" y1="222.55" x2="262.4" y2="222.55" stroke="#404040" stroke-width="0.8" />
<line x1="260.2" y1="188.9" x2="262.4" y2="188.9" stroke="#404040" stroke-width="0.8" />
<text x="258.3" y="190.96" font-size="7.4" font-weight="bold" text-anchor="end" fill="#111"  stroke="#111" stroke-width="0.22">50</text>
<line x1="261.1" y1="198.4" x2="262.4" y2="198.4" stroke="#404040" stroke-width="0.8" />
<line x1="269.7" y1="326.5" x2="269.7" y2="328.7" stroke="#404040" stroke-width="0.8" />
<text x="269.7" y="336.8" font-size="7.4" font-weight="bold" text-anchor="middle" fill="#111"  stroke="#111" stroke-width="0.22">1</text>
<line x1="276.82" y1="326.5" x2="276.82" y2="327.8" stroke="#404040" stroke-width="0.8" />
<line x1="283.95" y1="326.5" x2="283.95" y2="328.7" stroke="#404040" stroke-width="0.8" />
<text x="283.95" y="336.8" font-size="7.4" font-weight="bold" text-anchor="middle" fill="#111"  stroke="#111" stroke-width="0.22">2</text>
<line x1="291.07" y1="326.5" x2="291.07" y2="327.8" stroke="#404040" stroke-width="0.8" />
<line x1="298.2" y1="326.5" x2="298.2" y2="328.7" stroke="#404040" stroke-width="0.8" />
<text x="298.2" y="336.8" font-size="7.4" font-weight="bold" text-anchor="middle" fill="#111"  stroke="#111" stroke-width="0.22">3</text>
<line x1="305.32" y1="326.5" x2="305.32" y2="327.8" stroke="#404040" stroke-width="0.8" />
<line x1="312.45" y1="326.5" x2="312.45" y2="328.7" stroke="#404040" stroke-width="0.8" />
<text x="312.45" y="336.8" font-size="7.4" font-weight="bold" text-anchor="middle" fill="#111"  stroke="#111" stroke-width="0.22">4</text>
<line x1="319.57" y1="326.5" x2="319.57" y2="327.8" stroke="#404040" stroke-width="0.8" />
<line x1="326.7" y1="326.5" x2="326.7" y2="328.7" stroke="#404040" stroke-width="0.8" />
<text x="326.7" y="336.8" font-size="7.4" font-weight="bold" text-anchor="middle" fill="#111"  stroke="#111" stroke-width="0.22">5</text>
<line x1="333.82" y1="326.5" x2="333.82" y2="327.8" stroke="#404040" stroke-width="0.8" />
<line x1="340.95" y1="326.5" x2="340.95" y2="328.7" stroke="#404040" stroke-width="0.8" />
<text x="340.95" y="336.8" font-size="7.4" font-weight="bold" text-anchor="middle" fill="#111"  stroke="#111" stroke-width="0.22">6</text>
<line x1="348.07" y1="326.5" x2="348.07" y2="327.8" stroke="#404040" stroke-width="0.8" />
<line x1="355.2" y1="326.5" x2="355.2" y2="328.7" stroke="#404040" stroke-width="0.8" />
<text x="355.2" y="336.8" font-size="7.4" font-weight="bold" text-anchor="middle" fill="#111"  stroke="#111" stroke-width="0.22">7</text>
<line x1="362.32" y1="326.5" x2="362.32" y2="327.8" stroke="#404040" stroke-width="0.8" />
<line x1="369.45" y1="326.5" x2="369.45" y2="328.7" stroke="#404040" stroke-width="0.8" />
<text x="369.45" y="336.8" font-size="7.4" font-weight="bold" text-anchor="middle" fill="#111"  stroke="#111" stroke-width="0.22">8</text>
<line x1="376.57" y1="326.5" x2="376.57" y2="327.8" stroke="#404040" stroke-width="0.8" />
<line x1="383.7" y1="326.5" x2="383.7" y2="328.7" stroke="#404040" stroke-width="0.8" />
<text x="383.7" y="336.8" font-size="7.4" font-weight="bold" text-anchor="middle" fill="#111"  stroke="#111" stroke-width="0.22">9</text>
<line x1="390.82" y1="326.5" x2="390.82" y2="327.8" stroke="#404040" stroke-width="0.8" />
<line x1="397.95" y1="326.5" x2="397.95" y2="328.7" stroke="#404040" stroke-width="0.8" />
<text x="397.95" y="336.8" font-size="7.4" font-weight="bold" text-anchor="middle" fill="#111"  stroke="#111" stroke-width="0.22">10</text>
<line x1="405.07" y1="326.5" x2="405.07" y2="327.8" stroke="#404040" stroke-width="0.8" />
<line x1="412.2" y1="326.5" x2="412.2" y2="328.7" stroke="#404040" stroke-width="0.8" />
<text x="412.2" y="336.8" font-size="7.4" font-weight="bold" text-anchor="middle" fill="#111"  stroke="#111" stroke-width="0.22">11</text>
<line x1="419.32" y1="326.5" x2="419.32" y2="327.8" stroke="#404040" stroke-width="0.8" />
<line x1="426.45" y1="326.5" x2="426.45" y2="328.7" stroke="#404040" stroke-width="0.8" />
<text x="426.45" y="336.8" font-size="7.4" font-weight="bold" text-anchor="middle" fill="#111"  stroke="#111" stroke-width="0.22">12</text>
<line x1="433.57" y1="326.5" x2="433.57" y2="327.8" stroke="#404040" stroke-width="0.8" />
<text x="310.2" y="351.2" font-size="9.5" font-weight="bold" text-anchor="start" fill="#111" textLength="75.6" lengthAdjust="spacingAndGlyphs"  stroke="#111" stroke-width="0.2">Carbon Number</text>
<text transform="translate(245,257.7) rotate(-90)" x="0" y="0" font-size="10" font-weight="bold" text-anchor="middle" fill="#111" textLength="43.4" lengthAdjust="spacingAndGlyphs" stroke="#111" stroke-width="0.2">Yield (%)</text>
<rect x="267.25" y="186.5" width="118.4" height="101.9" fill="none" stroke="#ff3a3a" stroke-width="1.2" />
<rect x="321.45" y="309.9" width="69.7" height="28.3" fill="none" stroke="#ff2a2a" stroke-width="1.35" />
<polygon points="348.3,292.1 353.7,293.2 351.45,294.47 357.1,304.6 354.3,306.2 348.65,296.03 346.4,297.3" fill="#f51010" stroke="#111" stroke-width="0.6" stroke-linejoin="miter"/>
<rect x="289.9" y="268.28" width="4.7" height="0" fill="#8d8d8d" stroke="#777" stroke-width="0.4" />
<rect x="289.9" y="268.28" width="4.7" height="0" fill="url(#hatchO)" stroke="#9a7a5a" stroke-width="0.4" />
<rect x="289.9" y="268.28" width="4.7" height="1.12" fill="#f3c896" stroke="#a08a70" stroke-width="0.4" />
<rect x="295.8" y="257.75" width="4.7" height="11.65" fill="#a6e3a0" stroke="#4d7d4d" stroke-width="0.45" />
<rect x="309.43" y="262.46" width="4.7" height="0" fill="#8d8d8d" stroke="#777" stroke-width="0.4" />
<rect x="309.43" y="262.46" width="4.7" height="2.46" fill="url(#hatchO)" stroke="#9a7a5a" stroke-width="0.4" />
<rect x="309.43" y="264.92" width="4.7" height="4.48" fill="#f3c896" stroke="#a08a70" stroke-width="0.4" />
<rect x="315.33" y="252.15" width="4.7" height="17.25" fill="#a6e3a0" stroke="#4d7d4d" stroke-width="0.45" />
<rect x="328.96" y="245.88" width="4.7" height="5.38" fill="#8d8d8d" stroke="#777" stroke-width="0.4" />
<rect x="328.96" y="251.26" width="4.7" height="10.53" fill="url(#hatchO)" stroke="#9a7a5a" stroke-width="0.4" />
<rect x="328.96" y="261.78" width="4.7" height="7.62" fill="#f3c896" stroke="#a08a70" stroke-width="0.4" />
<rect x="334.86" y="235.13" width="4.7" height="34.27" fill="#a6e3a0" stroke="#4d7d4d" stroke-width="0.45" />
<rect x="348.49" y="238.04" width="4.7" height="0" fill="#8d8d8d" stroke="#777" stroke-width="0.4" />
<rect x="348.49" y="238.04" width="4.7" height="19.26" fill="url(#hatchO)" stroke="#9a7a5a" stroke-width="0.4" />
<rect x="348.49" y="257.3" width="4.7" height="12.1" fill="#f3c896" stroke="#a08a70" stroke-width="0.4" />
<rect x="354.39" y="225.27" width="4.7" height="44.13" fill="#a6e3a0" stroke="#4d7d4d" stroke-width="0.45" />
<rect x="368.02" y="238.49" width="4.7" height="0" fill="#8d8d8d" stroke="#777" stroke-width="0.4" />
<rect x="368.02" y="238.49" width="4.7" height="12.32" fill="url(#hatchO)" stroke="#9a7a5a" stroke-width="0.4" />
<rect x="368.02" y="250.81" width="4.7" height="18.59" fill="#f3c896" stroke="#a08a70" stroke-width="0.4" />
<rect x="373.92" y="194.14" width="4.7" height="75.26" fill="#a6e3a0" stroke="#4d7d4d" stroke-width="0.45" />
<line x1="285.1" y1="190.3" x2="285.1" y2="269.8" stroke="#404040" stroke-width="0.7" />
<line x1="284.8" y1="269.4" x2="382.6" y2="269.4" stroke="#404040" stroke-width="0.7" />
<line x1="283.6" y1="269.4" x2="285.1" y2="269.4" stroke="#404040" stroke-width="0.6" />
<text x="282.8" y="270.95" font-size="4.3" font-weight="bold" text-anchor="end" fill="#111" >0.0</text>
<line x1="283.6" y1="258.2" x2="285.1" y2="258.2" stroke="#404040" stroke-width="0.6" />
<text x="282.8" y="259.75" font-size="4.3" font-weight="bold" text-anchor="end" fill="#111" >0.5</text>
<line x1="283.6" y1="247" x2="285.1" y2="247" stroke="#404040" stroke-width="0.6" />
<text x="282.8" y="248.55" font-size="4.3" font-weight="bold" text-anchor="end" fill="#111" >1.0</text>
<line x1="283.6" y1="235.8" x2="285.1" y2="235.8" stroke="#404040" stroke-width="0.6" />
<text x="282.8" y="237.35" font-size="4.3" font-weight="bold" text-anchor="end" fill="#111" >1.5</text>
<line x1="283.6" y1="224.6" x2="285.1" y2="224.6" stroke="#404040" stroke-width="0.6" />
<text x="282.8" y="226.15" font-size="4.3" font-weight="bold" text-anchor="end" fill="#111" >2.0</text>
<line x1="283.6" y1="213.4" x2="285.1" y2="213.4" stroke="#404040" stroke-width="0.6" />
<text x="282.8" y="214.95" font-size="4.3" font-weight="bold" text-anchor="end" fill="#111" >2.5</text>
<line x1="283.6" y1="202.2" x2="285.1" y2="202.2" stroke="#404040" stroke-width="0.6" />
<text x="282.8" y="203.75" font-size="4.3" font-weight="bold" text-anchor="end" fill="#111" >3.0</text>
<line x1="283.6" y1="191" x2="285.1" y2="191" stroke="#404040" stroke-width="0.6" />
<text x="282.8" y="192.55" font-size="4.3" font-weight="bold" text-anchor="end" fill="#111" >3.5</text>
<line x1="284.2" y1="263.8" x2="285.1" y2="263.8" stroke="#404040" stroke-width="0.5" />
<line x1="284.2" y1="252.6" x2="285.1" y2="252.6" stroke="#404040" stroke-width="0.5" />
<line x1="284.2" y1="241.4" x2="285.1" y2="241.4" stroke="#404040" stroke-width="0.5" />
<line x1="284.2" y1="230.2" x2="285.1" y2="230.2" stroke="#404040" stroke-width="0.5" />
<line x1="284.2" y1="219" x2="285.1" y2="219" stroke="#404040" stroke-width="0.5" />
<line x1="284.2" y1="207.8" x2="285.1" y2="207.8" stroke="#404040" stroke-width="0.5" />
<line x1="284.2" y1="196.6" x2="285.1" y2="196.6" stroke="#404040" stroke-width="0.5" />
<line x1="295.2" y1="269.4" x2="295.2" y2="270.9" stroke="#404040" stroke-width="0.6" />
<text x="295.2" y="276.4" font-size="4.6" font-weight="bold" text-anchor="middle" fill="#111" >5</text>
<line x1="314.73" y1="269.4" x2="314.73" y2="270.9" stroke="#404040" stroke-width="0.6" />
<text x="314.73" y="276.4" font-size="4.6" font-weight="bold" text-anchor="middle" fill="#111" >6</text>
<line x1="334.26" y1="269.4" x2="334.26" y2="270.9" stroke="#404040" stroke-width="0.6" />
<text x="334.26" y="276.4" font-size="4.6" font-weight="bold" text-anchor="middle" fill="#111" >7</text>
<line x1="353.79" y1="269.4" x2="353.79" y2="270.9" stroke="#404040" stroke-width="0.6" />
<text x="353.79" y="276.4" font-size="4.6" font-weight="bold" text-anchor="middle" fill="#111" >8</text>
<line x1="373.32" y1="269.4" x2="373.32" y2="270.9" stroke="#404040" stroke-width="0.6" />
<text x="373.32" y="276.4" font-size="4.6" font-weight="bold" text-anchor="middle" fill="#111" >9</text>
<text x="312.3" y="284.4" font-size="6" font-weight="bold" text-anchor="start" fill="#111" textLength="43.1" lengthAdjust="spacingAndGlyphs" >Carbon Number</text>
<text transform="translate(274.2,230.8) rotate(-90)" x="0" y="0" font-size="6" font-weight="bold" text-anchor="middle" fill="#111" textLength="25.6" lengthAdjust="spacingAndGlyphs" stroke="#111" stroke-width="0.2">Yield (%)</text>
<rect x="289.1" y="191.4" width="8.4" height="4.2" fill="#f3c896" stroke="#9a9a9a" stroke-width="0.4" />
<rect x="289.1" y="196.1" width="8.4" height="4.2" fill="#a6e3a0" stroke="#9a9a9a" stroke-width="0.4" />
<rect x="289.1" y="200.9" width="8.4" height="4.2" fill="url(#hatchL)" stroke="#aaa" stroke-width="0.4" />
<rect x="289.1" y="205.8" width="8.4" height="4.4" fill="#8d8d8d" stroke="#888" stroke-width="0.4" />
<text x="299" y="194.7" font-size="4.25" font-weight="normal" text-anchor="start" fill="#000"  stroke="#000" stroke-width="0.12">Without water</text>
<text x="299" y="199.55" font-size="4.25" font-weight="normal" text-anchor="start" fill="#000"  stroke="#000" stroke-width="0.12">With water</text>
<text x="299" y="204.4" font-size="4.25" font-weight="normal" text-anchor="start" fill="#000"  stroke="#000" stroke-width="0.12">Isomer</text>
<text x="299" y="209.25" font-size="4.25" font-weight="normal" text-anchor="start" fill="#000"  stroke="#000" stroke-width="0.12">Aromatic</text>
<text x="455.3" y="210.8" font-size="22" font-weight="bold" text-anchor="start" fill="#111" textLength="8.2" lengthAdjust="spacingAndGlyphs"  stroke="#111" stroke-width="0.35">f</text>
<rect x="496.5" y="225.3" width="10.5" height="101" fill="#f1c792" stroke="#b08f6a" stroke-width="0.6" />
<rect x="507.35" y="322.6" width="10.7" height="3.7" fill="#a6e3a0" stroke="#8aa08a" stroke-width="0.6" />
<rect x="539.15" y="263.1" width="10.5" height="63.2" fill="#f1c792" stroke="#b08f6a" stroke-width="0.6" />
<rect x="550" y="316.2" width="10.7" height="10.1" fill="#a6e3a0" stroke="#8aa08a" stroke-width="0.6" />
<rect x="581.8" y="212.3" width="10.5" height="114" fill="#f1c792" stroke="#b08f6a" stroke-width="0.6" />
<rect x="592.65" y="321.3" width="10.7" height="5" fill="#a6e3a0" stroke="#8aa08a" stroke-width="0.6" />
<rect x="624.45" y="293.6" width="10.5" height="32.7" fill="#f1c792" stroke="#b08f6a" stroke-width="0.6" />
<rect x="635.3" y="194.4" width="10.7" height="131.9" fill="#a6e3a0" stroke="#8aa08a" stroke-width="0.6" />
<polygon points="495.65,301.3 507.45,300 507.45,301.9 495.65,303.2" fill="#fff"/>
<line x1="495.95" y1="301.3" x2="507.15" y2="300" stroke="#8a8070" stroke-width="0.45" />
<line x1="495.95" y1="303.2" x2="507.15" y2="301.9" stroke="#8a8070" stroke-width="0.45" />
<polygon points="538.3,301.3 550.1,300 550.1,301.9 538.3,303.2" fill="#fff"/>
<line x1="538.6" y1="301.3" x2="549.8" y2="300" stroke="#8a8070" stroke-width="0.45" />
<line x1="538.6" y1="303.2" x2="549.8" y2="301.9" stroke="#8a8070" stroke-width="0.45" />
<polygon points="580.95,301.3 592.75,300 592.75,301.9 580.95,303.2" fill="#fff"/>
<line x1="581.25" y1="301.3" x2="592.45" y2="300" stroke="#8a8070" stroke-width="0.45" />
<line x1="581.25" y1="303.2" x2="592.45" y2="301.9" stroke="#8a8070" stroke-width="0.45" />
<polygon points="623.6,301.3 646.8,298.75 646.8,300.65 623.6,303.2" fill="#fff"/>
<line x1="623.9" y1="301.3" x2="646.5" y2="298.75" stroke="#8a8070" stroke-width="0.45" />
<line x1="623.9" y1="303.2" x2="646.5" y2="300.65" stroke="#8a8070" stroke-width="0.45" />
<line x1="486.3" y1="188.5" x2="486.3" y2="300.7" stroke="#404040" stroke-width="0.9" />
<line x1="486.3" y1="303.1" x2="486.3" y2="326.8" stroke="#404040" stroke-width="0.9" />
<line x1="483.3" y1="301.9" x2="488.9" y2="299.7" stroke="#555" stroke-width="0.7" />
<line x1="483.3" y1="304.1" x2="488.9" y2="301.9" stroke="#555" stroke-width="0.7" />
<line x1="484.1" y1="196.8" x2="486.3" y2="196.8" stroke="#404040" stroke-width="0.8" />
<text x="482.2" y="198.86" font-size="7.4" font-weight="bold" text-anchor="end" fill="#111"  stroke="#111" stroke-width="0.22">50</text>
<line x1="484.1" y1="212.75" x2="486.3" y2="212.75" stroke="#404040" stroke-width="0.8" />
<text x="482.2" y="214.81" font-size="7.4" font-weight="bold" text-anchor="end" fill="#111"  stroke="#111" stroke-width="0.22">45</text>
<line x1="484.1" y1="228.7" x2="486.3" y2="228.7" stroke="#404040" stroke-width="0.8" />
<text x="482.2" y="230.76" font-size="7.4" font-weight="bold" text-anchor="end" fill="#111"  stroke="#111" stroke-width="0.22">40</text>
<line x1="484.1" y1="244.65" x2="486.3" y2="244.65" stroke="#404040" stroke-width="0.8" />
<text x="482.2" y="246.71" font-size="7.4" font-weight="bold" text-anchor="end" fill="#111"  stroke="#111" stroke-width="0.22">35</text>
<line x1="484.1" y1="260.6" x2="486.3" y2="260.6" stroke="#404040" stroke-width="0.8" />
<text x="482.2" y="262.66" font-size="7.4" font-weight="bold" text-anchor="end" fill="#111"  stroke="#111" stroke-width="0.22">30</text>
<line x1="484.1" y1="276.55" x2="486.3" y2="276.55" stroke="#404040" stroke-width="0.8" />
<text x="482.2" y="278.61" font-size="7.4" font-weight="bold" text-anchor="end" fill="#111"  stroke="#111" stroke-width="0.22">25</text>
<line x1="484.1" y1="292.5" x2="486.3" y2="292.5" stroke="#404040" stroke-width="0.8" />
<text x="482.2" y="294.56" font-size="7.4" font-weight="bold" text-anchor="end" fill="#111"  stroke="#111" stroke-width="0.22">20</text>
<line x1="485" y1="188.83" x2="486.3" y2="188.83" stroke="#404040" stroke-width="0.8" />
<line x1="485" y1="204.78" x2="486.3" y2="204.78" stroke="#404040" stroke-width="0.8" />
<line x1="485" y1="220.73" x2="486.3" y2="220.73" stroke="#404040" stroke-width="0.8" />
<line x1="485" y1="236.68" x2="486.3" y2="236.68" stroke="#404040" stroke-width="0.8" />
<line x1="485" y1="252.62" x2="486.3" y2="252.62" stroke="#404040" stroke-width="0.8" />
<line x1="485" y1="268.58" x2="486.3" y2="268.58" stroke="#404040" stroke-width="0.8" />
<line x1="485" y1="284.52" x2="486.3" y2="284.52" stroke="#404040" stroke-width="0.8" />
<line x1="484.1" y1="310.5" x2="486.3" y2="310.5" stroke="#404040" stroke-width="0.8" />
<text x="482.2" y="312.56" font-size="7.4" font-weight="bold" text-anchor="end" fill="#111"  stroke="#111" stroke-width="0.22">5</text>
<line x1="484.1" y1="326.3" x2="486.3" y2="326.3" stroke="#404040" stroke-width="0.8" />
<text x="482.2" y="328.36" font-size="7.4" font-weight="bold" text-anchor="end" fill="#111"  stroke="#111" stroke-width="0.22">0</text>
<line x1="485" y1="318.4" x2="486.3" y2="318.4" stroke="#404040" stroke-width="0.8" />
<line x1="656.8" y1="188.5" x2="656.8" y2="326.5" stroke="#f02020" stroke-width="0.9" />
<line x1="656.8" y1="325.8" x2="659" y2="325.8" stroke="#f02020" stroke-width="0.8" />
<text x="661.2" y="327.82" font-size="7" font-weight="bold" text-anchor="start" fill="#f02020"  stroke="#f02020" stroke-width="0.22">0</text>
<line x1="656.8" y1="298.38" x2="659" y2="298.38" stroke="#f02020" stroke-width="0.8" />
<text x="661.2" y="300.4" font-size="7" font-weight="bold" text-anchor="start" fill="#f02020"  stroke="#f02020" stroke-width="0.22">20</text>
<line x1="656.8" y1="270.96" x2="659" y2="270.96" stroke="#f02020" stroke-width="0.8" />
<text x="661.2" y="272.98" font-size="7" font-weight="bold" text-anchor="start" fill="#f02020"  stroke="#f02020" stroke-width="0.22">40</text>
<line x1="656.8" y1="243.54" x2="659" y2="243.54" stroke="#f02020" stroke-width="0.8" />
<text x="661.2" y="245.56" font-size="7" font-weight="bold" text-anchor="start" fill="#f02020"  stroke="#f02020" stroke-width="0.22">60</text>
<line x1="656.8" y1="216.12" x2="659" y2="216.12" stroke="#f02020" stroke-width="0.8" />
<text x="661.2" y="218.14" font-size="7" font-weight="bold" text-anchor="start" fill="#f02020"  stroke="#f02020" stroke-width="0.22">80</text>
<line x1="656.8" y1="188.7" x2="659" y2="188.7" stroke="#f02020" stroke-width="0.8" />
<text x="661.2" y="190.72" font-size="7" font-weight="bold" text-anchor="start" fill="#f02020"  stroke="#f02020" stroke-width="0.22">100</text>
<line x1="656.8" y1="312.09" x2="658.1" y2="312.09" stroke="#f02020" stroke-width="0.8" />
<line x1="656.8" y1="284.67" x2="658.1" y2="284.67" stroke="#f02020" stroke-width="0.8" />
<line x1="656.8" y1="257.25" x2="658.1" y2="257.25" stroke="#f02020" stroke-width="0.8" />
<line x1="656.8" y1="229.83" x2="658.1" y2="229.83" stroke="#f02020" stroke-width="0.8" />
<line x1="656.8" y1="202.41" x2="658.1" y2="202.41" stroke="#f02020" stroke-width="0.8" />
<line x1="486" y1="326.3" x2="657" y2="326.3" stroke="#404040" stroke-width="0.9" />
<line x1="507.15" y1="326.3" x2="507.15" y2="328.5" stroke="#404040" stroke-width="0.8" />
<line x1="549.8" y1="326.3" x2="549.8" y2="328.5" stroke="#404040" stroke-width="0.8" />
<line x1="592.45" y1="326.3" x2="592.45" y2="328.5" stroke="#404040" stroke-width="0.8" />
<line x1="635.1" y1="326.3" x2="635.1" y2="328.5" stroke="#404040" stroke-width="0.8" />
<line x1="528.8" y1="326.3" x2="528.8" y2="327.6" stroke="#404040" stroke-width="0.8" />
<line x1="571.3" y1="326.3" x2="571.3" y2="327.6" stroke="#404040" stroke-width="0.8" />
<line x1="613.8" y1="326.3" x2="613.8" y2="327.6" stroke="#404040" stroke-width="0.8" />
<text x="507.15" y="334.9" font-size="4.65" font-weight="bold" text-anchor="middle" fill="#000" >5% Ru/zeolite Y,</text>
<text x="507.15" y="340.7" font-size="4.65" font-weight="bold" text-anchor="middle" fill="#000" >with water</text>
<text x="549.8" y="334.9" font-size="4.65" font-weight="bold" text-anchor="middle" fill="#000" >5% Ru/zeolite Y,</text>
<text x="549.8" y="340.7" font-size="4.65" font-weight="bold" text-anchor="middle" fill="#000" >without water</text>
<text x="592.45" y="334.9" font-size="4.65" font-weight="bold" text-anchor="middle" fill="#000" >0.2% Ru/zeolite Y,</text>
<text x="592.45" y="340.7" font-size="4.65" font-weight="bold" text-anchor="middle" fill="#000" >with water</text>
<text x="635.1" y="334.9" font-size="4.65" font-weight="bold" text-anchor="middle" fill="#000" >0.2% Ru/zeolite Y,</text>
<text x="635.1" y="340.7" font-size="4.65" font-weight="bold" text-anchor="middle" fill="#000" >without water</text>
<text transform="translate(471.2,257.3) rotate(-90)" x="0" y="0" font-size="10" font-weight="bold" text-anchor="middle" fill="#111" textLength="43.8" lengthAdjust="spacingAndGlyphs" stroke="#111" stroke-width="0.2">Yield (%)</text>
<text transform="translate(676.6,256.8) rotate(90)" x="0" y="0" font-size="10" font-weight="bold" text-anchor="middle" fill="#f02020" textLength="106.5" lengthAdjust="spacingAndGlyphs" stroke="#f02020" stroke-width="0.2">Isomer Selectivity (%)</text>
<rect x="489.2" y="188.3" width="15.7" height="7.4" fill="#f1c792" stroke="#8a8a8a" stroke-width="0.6" />
<rect x="489.2" y="197.1" width="15.7" height="7.4" fill="#a6e3a0" stroke="#8a8a8a" stroke-width="0.6" />
<text x="506.8" y="194.9" font-size="7.3" font-weight="normal" text-anchor="start" fill="#111" textLength="27.3" lengthAdjust="spacingAndGlyphs"  stroke="#111" stroke-width="0.15">n-alkane</text>
<text x="506.8" y="203.2" font-size="7.3" font-weight="normal" text-anchor="start" fill="#111" textLength="32.6" lengthAdjust="spacingAndGlyphs"  stroke="#111" stroke-width="0.15">iso-alkane</text>
<polyline points="507.6,322.2 550.1,312.4 592.9,321.4 635.5,226.6" fill="none" stroke="#f52a2a" stroke-width="0.7"/>
<rect x="504.5" y="319.2" width="6.2" height="6" fill="#f51515" stroke="none" stroke-width="0.6" />
<polygon points="546.1,315.6 554.1,315.6 550.1,308.8" fill="#f51515"/>
<rect x="589.8" y="318.4" width="6.2" height="6" fill="#f51515" stroke="none" stroke-width="0.6" />
<polygon points="631.5,229.8 639.5,229.8 635.5,223" fill="#f51515"/>
</svg></body></html>
